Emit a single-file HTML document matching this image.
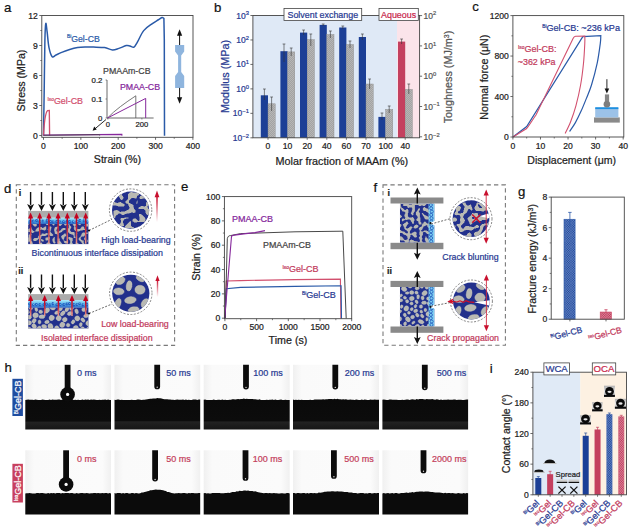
<!DOCTYPE html>
<html><head><meta charset="utf-8"><style>
html,body{margin:0;padding:0;background:#fff;}
svg{display:block;font-family:"Liberation Sans", sans-serif;}
</style></head><body>
<svg width="630" height="527" viewBox="0 0 630 527">
<defs><pattern id="hatchg" width="2" height="2" patternUnits="userSpaceOnUse"><rect width="2" height="2" fill="#c9c9c9"/><path d="M0,2 L2,0" stroke="#8a8a8a" stroke-width="0.6"/><path d="M0,0 L2,2" stroke="#9a9a9a" stroke-width="0.4"/></pattern><linearGradient id="redfade" x1="0" y1="0" x2="0" y2="1"><stop offset="0" stop-color="#c0001c"/><stop offset="0.5" stop-color="#c82a3c"/><stop offset="1" stop-color="#eca090"/></linearGradient><linearGradient id="redfade2" x1="0" y1="0" x2="0" y2="1"><stop offset="0" stop-color="#c8102e"/><stop offset="1" stop-color="#c8102e" stop-opacity="0"/></linearGradient><linearGradient id="bluelayer" x1="0" y1="0" x2="0" y2="1"><stop offset="0" stop-color="#b0ecfa"/><stop offset="0.5" stop-color="#58b4ea"/><stop offset="1" stop-color="#2c64c4"/></linearGradient><clipPath id="cdb2"><rect x="28.2" y="307.8" width="60.2" height="20.6"/></clipPath><clipPath id="cd1"><circle cx="130.6" cy="210.1" r="18.6"/></clipPath><clipPath id="cd2"><circle cx="130.8" cy="293.3" r="18.6"/></clipPath><clipPath id="cs31"><rect x="399.9" y="203.5" width="34.6" height="39.3"/></clipPath><clipPath id="cs32"><rect x="399.9" y="287.0" width="34.6" height="39.5"/></clipPath><clipPath id="cf1"><circle cx="471" cy="218.7" r="18.4"/></clipPath><clipPath id="cf2"><circle cx="471.4" cy="301" r="18.4"/></clipPath><pattern id="hb" width="2.2" height="2.2" patternUnits="userSpaceOnUse" patternTransform="rotate(45)"><rect width="2.2" height="2.2" fill="#2e5eb0"/><rect width="0.8" height="2.2" fill="#7fa0d8"/></pattern><pattern id="hp" width="2.2" height="2.2" patternUnits="userSpaceOnUse" patternTransform="rotate(45)"><rect width="2.2" height="2.2" fill="#d04c6a"/><rect width="0.8" height="2.2" fill="#f0a8b8"/></pattern><pattern id="hb2" width="2.2" height="2.2" patternUnits="userSpaceOnUse" patternTransform="rotate(-45)"><rect width="2.2" height="2.2" fill="#2e5eb0"/><rect width="0.8" height="2.2" fill="#8fb0e0"/></pattern><pattern id="hp2" width="2.2" height="2.2" patternUnits="userSpaceOnUse" patternTransform="rotate(-45)"><rect width="2.2" height="2.2" fill="#d04c6a"/><rect width="0.8" height="2.2" fill="#f4b8c6"/></pattern><linearGradient id="phbg" x1="0" y1="0" x2="1" y2="0"><stop offset="0" stop-color="#f0f0f0"/><stop offset="0.1" stop-color="#fafafa"/><stop offset="0.9" stop-color="#fbfbfb"/><stop offset="1" stop-color="#f0f0f0"/></linearGradient><linearGradient id="phbot" x1="0" y1="0" x2="0" y2="1"><stop offset="0" stop-color="#0a0a0a"/><stop offset="0.72" stop-color="#0c0c0c"/><stop offset="0.76" stop-color="#222"/><stop offset="1" stop-color="#161616"/></linearGradient><pattern id="hbi" width="1.7" height="1.7" patternUnits="userSpaceOnUse" patternTransform="rotate(45)"><rect width="1.7" height="1.7" fill="#1d469a"/><rect width="0.35" height="1.7" fill="#8aa4d6"/><rect width="1.7" height="0.35" fill="#8aa4d6"/></pattern><pattern id="hpi" width="1.7" height="1.7" patternUnits="userSpaceOnUse" patternTransform="rotate(45)"><rect width="1.7" height="1.7" fill="#bc3656"/><rect width="0.35" height="1.7" fill="#eeb0c0"/><rect width="1.7" height="0.35" fill="#eeb0c0"/></pattern><linearGradient id="icbg" x1="0" y1="0" x2="0" y2="1"><stop offset="0" stop-color="#b0b0b0"/><stop offset="0.5" stop-color="#e6e6e6"/><stop offset="1" stop-color="#a8a8a8"/></linearGradient></defs>
<text x="4.0" y="11.8" font-size="13.2" fill="#111" text-anchor="start"  stroke="#111" stroke-width="0.22">a</text>
<text x="214.0" y="11.6" font-size="13.2" fill="#111" text-anchor="start"  stroke="#111" stroke-width="0.22">b</text>
<text x="472.3" y="11.2" font-size="13.2" fill="#111" text-anchor="start"  stroke="#111" stroke-width="0.22">c</text>
<text x="3.9" y="192.6" font-size="13.2" fill="#111" text-anchor="start"  stroke="#111" stroke-width="0.22">d</text>
<text x="181.0" y="190.8" font-size="13.2" fill="#111" text-anchor="start"  stroke="#111" stroke-width="0.22">e</text>
<text x="373.5" y="192.2" font-size="13.2" fill="#111" text-anchor="start"  stroke="#111" stroke-width="0.22">f</text>
<text x="518.0" y="195.6" font-size="13.2" fill="#111" text-anchor="start"  stroke="#111" stroke-width="0.22">g</text>
<text x="4.5" y="372.4" font-size="13.2" fill="#111" text-anchor="start"  stroke="#111" stroke-width="0.22">h</text>
<text x="489.8" y="372.6" font-size="13.2" fill="#111" text-anchor="start"  stroke="#111" stroke-width="0.22">i</text>
<line x1="39.30" y1="135.50" x2="41.80" y2="135.50" stroke="#444" stroke-width="0.8" />
<text x="37.8" y="138.5" font-size="8.6" fill="#222" text-anchor="end"  stroke="#222" stroke-width="0.22">0</text>
<line x1="39.30" y1="105.50" x2="41.80" y2="105.50" stroke="#444" stroke-width="0.8" />
<text x="37.8" y="108.5" font-size="8.6" fill="#222" text-anchor="end"  stroke="#222" stroke-width="0.22">3</text>
<line x1="39.30" y1="75.50" x2="41.80" y2="75.50" stroke="#444" stroke-width="0.8" />
<text x="37.8" y="78.5" font-size="8.6" fill="#222" text-anchor="end"  stroke="#222" stroke-width="0.22">6</text>
<line x1="39.30" y1="45.50" x2="41.80" y2="45.50" stroke="#444" stroke-width="0.8" />
<text x="37.8" y="48.5" font-size="8.6" fill="#222" text-anchor="end"  stroke="#222" stroke-width="0.22">9</text>
<line x1="39.30" y1="15.50" x2="41.80" y2="15.50" stroke="#444" stroke-width="0.8" />
<text x="37.8" y="18.5" font-size="8.6" fill="#222" text-anchor="end"  stroke="#222" stroke-width="0.22">12</text>
<line x1="40.30" y1="120.50" x2="41.80" y2="120.50" stroke="#444" stroke-width="0.7" />
<line x1="40.30" y1="90.50" x2="41.80" y2="90.50" stroke="#444" stroke-width="0.7" />
<line x1="40.30" y1="60.50" x2="41.80" y2="60.50" stroke="#444" stroke-width="0.7" />
<line x1="40.30" y1="30.50" x2="41.80" y2="30.50" stroke="#444" stroke-width="0.7" />
<line x1="43.50" y1="137.30" x2="43.50" y2="139.80" stroke="#444" stroke-width="0.8" />
<text x="43.5" y="148.6" font-size="8.6" fill="#222" text-anchor="middle"  stroke="#222" stroke-width="0.22">0</text>
<line x1="80.85" y1="137.30" x2="80.85" y2="139.80" stroke="#444" stroke-width="0.8" />
<text x="80.8" y="148.6" font-size="8.6" fill="#222" text-anchor="middle"  stroke="#222" stroke-width="0.22">100</text>
<line x1="118.20" y1="137.30" x2="118.20" y2="139.80" stroke="#444" stroke-width="0.8" />
<text x="118.2" y="148.6" font-size="8.6" fill="#222" text-anchor="middle"  stroke="#222" stroke-width="0.22">200</text>
<line x1="155.55" y1="137.30" x2="155.55" y2="139.80" stroke="#444" stroke-width="0.8" />
<text x="155.6" y="148.6" font-size="8.6" fill="#222" text-anchor="middle"  stroke="#222" stroke-width="0.22">300</text>
<line x1="192.90" y1="137.30" x2="192.90" y2="139.80" stroke="#444" stroke-width="0.8" />
<text x="192.9" y="148.6" font-size="8.6" fill="#222" text-anchor="middle"  stroke="#222" stroke-width="0.22">400</text>
<line x1="62.17" y1="137.30" x2="62.17" y2="138.80" stroke="#444" stroke-width="0.7" />
<line x1="99.53" y1="137.30" x2="99.53" y2="138.80" stroke="#444" stroke-width="0.7" />
<line x1="136.88" y1="137.30" x2="136.88" y2="138.80" stroke="#444" stroke-width="0.7" />
<line x1="174.22" y1="137.30" x2="174.22" y2="138.80" stroke="#444" stroke-width="0.7" />
<text x="117.4" y="163.0" font-size="10.6" fill="#222" text-anchor="middle"  stroke="#222" stroke-width="0.22">Strain (%)</text>
<text x="0.0" y="0.0" font-size="10.6" fill="#222" text-anchor="middle" transform="translate(25.3,80.5) rotate(-90)" stroke="#222" stroke-width="0.22">Stress (MPa)</text>
<path d="M43.50,135.50 C43.62,127.92 43.97,105.92 44.20,90.00 C44.43,74.08 44.63,51.08 44.90,40.00 C45.17,28.92 45.43,24.88 45.80,23.50 C46.17,22.12 46.57,27.68 47.10,31.70 C47.63,35.72 48.15,43.43 49.00,47.60 C49.85,51.77 51.03,55.47 52.20,56.70 C53.37,57.93 54.42,55.72 56.00,55.00 C57.58,54.28 59.42,53.32 61.70,52.40 C63.98,51.48 67.05,50.30 69.70,49.50 C72.35,48.70 75.05,48.02 77.60,47.60 C80.15,47.18 82.35,47.08 85.00,47.00 C87.65,46.92 90.23,47.00 93.50,47.10 C96.77,47.20 101.43,47.12 104.60,47.60 C107.77,48.08 110.12,49.87 112.50,50.00 C114.88,50.13 116.62,49.13 118.90,48.40 C121.18,47.67 124.35,46.00 126.20,45.60 C128.05,45.20 128.70,45.75 130.00,46.00 C131.30,46.25 132.75,47.78 134.00,47.10 C135.25,46.42 135.88,44.65 137.50,41.90 C139.12,39.15 141.22,33.65 143.70,30.60 C146.18,27.55 150.02,25.37 152.40,23.60 C154.78,21.83 156.40,21.00 158.00,20.00 C159.60,19.00 161.02,17.85 162.00,17.60 C162.98,17.35 163.58,18.35 163.90,18.50 L164.3,40 L164.5,135.8" stroke="#2a5aa8" stroke-width="1.5" fill="none" />
<path d="M43.5,135.5 C44.2,122 45.2,113 47.5,110.6 L49.3,110.4 L49.6,135.6" stroke="#d2506e" stroke-width="1.35" fill="none" />
<path d="M43.5,135.2 L121.8,134.3 L122,135.6" stroke="#86289c" stroke-width="1.2" fill="none" />
<path d="M43.5,135.3 L99.5,134.7 L99.7,135.6" stroke="#444" stroke-width="0.8" fill="none" />
<rect x="41.80" y="15.50" width="151.20" height="121.80" fill="none" stroke="#444" stroke-width="0.9"/>
<text x="67" y="41.6" fill="#2a5aa8" font-size="8.7" stroke="#2a5aa8" stroke-width="0.22"><tspan font-size="4.8" dy="-3.2">Bi</tspan><tspan dy="3.2">Gel-CB</tspan></text>
<text x="47.5" y="104" fill="#d2506e" font-size="8.9" stroke="#d2506e" stroke-width="0.22"><tspan font-size="4.8" dy="-3.2">Iso</tspan><tspan dy="3.2">Gel-CB</tspan></text>
<text x="103.1" y="74.0" font-size="8.8" fill="#444" text-anchor="start"  stroke="#444" stroke-width="0.22">PMAAm-CB</text>
<text x="120.0" y="89.7" font-size="8.8" fill="#86289c" text-anchor="start"  stroke="#86289c" stroke-width="0.22">PMAA-CB</text>
<line x1="107.00" y1="80.00" x2="107.00" y2="118.00" stroke="#444" stroke-width="0.8" />
<line x1="107.00" y1="118.00" x2="153.60" y2="118.00" stroke="#444" stroke-width="0.8" />
<line x1="105.50" y1="118.00" x2="107.00" y2="118.00" stroke="#444" stroke-width="0.6" />
<text x="102.4" y="120.7" font-size="7.8" fill="#222" text-anchor="end"  stroke="#222" stroke-width="0.22">0</text>
<line x1="105.50" y1="99.00" x2="107.00" y2="99.00" stroke="#444" stroke-width="0.6" />
<text x="102.4" y="101.7" font-size="7.8" fill="#222" text-anchor="end"  stroke="#222" stroke-width="0.22">0.1</text>
<line x1="105.50" y1="80.00" x2="107.00" y2="80.00" stroke="#444" stroke-width="0.6" />
<text x="102.4" y="82.7" font-size="7.8" fill="#222" text-anchor="end"  stroke="#222" stroke-width="0.22">0.2</text>
<line x1="107.90" y1="118.00" x2="107.90" y2="119.50" stroke="#444" stroke-width="0.6" />
<text x="107.9" y="127.3" font-size="7.6" fill="#222" text-anchor="middle"  stroke="#222" stroke-width="0.22">0</text>
<line x1="141.90" y1="118.00" x2="141.90" y2="119.50" stroke="#444" stroke-width="0.6" />
<text x="141.9" y="127.3" font-size="7.6" fill="#222" text-anchor="middle"  stroke="#222" stroke-width="0.22">200</text>
<path d="M107.5,118 C115,110 125,103 135.8,95.8 L135.8,118" stroke="#555" stroke-width="0.8" fill="none" />
<path d="M107.5,118 L145.7,98.4 L145.7,118" stroke="#86289c" stroke-width="1.0" fill="none" />
<line x1="106.00" y1="119.50" x2="95.00" y2="128.80" stroke="#111" stroke-width="0.9" />
<path d="M92.6,130.8 L94.2,126.6 L96.7,129.6 Z" stroke="none" stroke-width="0" fill="#111" />
<g fill="#8fb5de">
<path d="M175.1,45 L184.2,45 L184.2,51.5 L181.2,55.5 L181.2,72 L184.2,76 L184.2,87.9 L175.1,87.9 L175.1,76 L178.1,72 L178.1,55.5 L175.1,51.5 Z"/>
</g>
<line x1="179.60" y1="45.00" x2="179.60" y2="33.00" stroke="#111" stroke-width="1.0" />
<path d="M179.6,29.3 L177,35.8 L182.2,35.8 Z" stroke="none" stroke-width="0" fill="#111" />
<line x1="179.60" y1="87.90" x2="179.60" y2="100.00" stroke="#111" stroke-width="1.0" />
<path d="M179.6,103.7 L177,97.2 L182.2,97.2 Z" stroke="none" stroke-width="0" fill="#111" />
<rect x="252.90" y="15.50" width="144.10" height="122.30" fill="#dfe9f6" />
<rect x="397.00" y="15.50" width="22.60" height="122.30" fill="#fbe4ea" />
<rect x="260.80" y="95.30" width="7.20" height="42.50" fill="#1c3f96" />
<rect x="268.00" y="103.80" width="7.20" height="34.00" fill="url(#hatchg)" stroke="#888" stroke-width="0.4"/>
<line x1="264.40" y1="89.00" x2="264.40" y2="100.00" stroke="#333" stroke-width="0.6" />
<line x1="263.00" y1="89.00" x2="265.80" y2="89.00" stroke="#333" stroke-width="0.6" />
<line x1="271.60" y1="97.00" x2="271.60" y2="111.00" stroke="#333" stroke-width="0.6" />
<line x1="270.20" y1="97.00" x2="273.00" y2="97.00" stroke="#333" stroke-width="0.6" />
<line x1="268.00" y1="137.80" x2="268.00" y2="139.80" stroke="#444" stroke-width="0.7" />
<text x="268.0" y="148.6" font-size="8.6" fill="#222" text-anchor="middle"  stroke="#222" stroke-width="0.22">0</text>
<rect x="280.40" y="51.20" width="7.20" height="86.60" fill="#1c3f96" />
<rect x="287.60" y="51.90" width="7.20" height="85.90" fill="url(#hatchg)" stroke="#888" stroke-width="0.4"/>
<line x1="284.00" y1="44.00" x2="284.00" y2="62.00" stroke="#333" stroke-width="0.6" />
<line x1="282.60" y1="44.00" x2="285.40" y2="44.00" stroke="#333" stroke-width="0.6" />
<line x1="291.20" y1="48.00" x2="291.20" y2="56.00" stroke="#333" stroke-width="0.6" />
<line x1="289.80" y1="48.00" x2="292.60" y2="48.00" stroke="#333" stroke-width="0.6" />
<line x1="287.60" y1="137.80" x2="287.60" y2="139.80" stroke="#444" stroke-width="0.7" />
<text x="287.6" y="148.6" font-size="8.6" fill="#222" text-anchor="middle"  stroke="#222" stroke-width="0.22">10</text>
<rect x="300.00" y="32.60" width="7.20" height="105.20" fill="#1c3f96" />
<rect x="307.20" y="39.60" width="7.20" height="98.20" fill="url(#hatchg)" stroke="#888" stroke-width="0.4"/>
<line x1="303.60" y1="30.00" x2="303.60" y2="35.00" stroke="#333" stroke-width="0.6" />
<line x1="302.20" y1="30.00" x2="305.00" y2="30.00" stroke="#333" stroke-width="0.6" />
<line x1="310.80" y1="34.00" x2="310.80" y2="46.00" stroke="#333" stroke-width="0.6" />
<line x1="309.40" y1="34.00" x2="312.20" y2="34.00" stroke="#333" stroke-width="0.6" />
<line x1="307.20" y1="137.80" x2="307.20" y2="139.80" stroke="#444" stroke-width="0.7" />
<text x="307.2" y="148.6" font-size="8.6" fill="#222" text-anchor="middle"  stroke="#222" stroke-width="0.22">20</text>
<rect x="319.60" y="24.90" width="7.20" height="112.90" fill="#1c3f96" />
<rect x="326.80" y="34.50" width="7.20" height="103.30" fill="url(#hatchg)" stroke="#888" stroke-width="0.4"/>
<line x1="323.20" y1="24.00" x2="323.20" y2="26.00" stroke="#333" stroke-width="0.6" />
<line x1="321.80" y1="24.00" x2="324.60" y2="24.00" stroke="#333" stroke-width="0.6" />
<line x1="330.40" y1="31.00" x2="330.40" y2="38.00" stroke="#333" stroke-width="0.6" />
<line x1="329.00" y1="31.00" x2="331.80" y2="31.00" stroke="#333" stroke-width="0.6" />
<line x1="326.80" y1="137.80" x2="326.80" y2="139.80" stroke="#444" stroke-width="0.7" />
<text x="326.8" y="148.6" font-size="8.6" fill="#222" text-anchor="middle"  stroke="#222" stroke-width="0.22">40</text>
<rect x="339.20" y="27.50" width="7.20" height="110.30" fill="#1c3f96" />
<rect x="346.40" y="44.50" width="7.20" height="93.30" fill="url(#hatchg)" stroke="#888" stroke-width="0.4"/>
<line x1="342.80" y1="26.00" x2="342.80" y2="29.00" stroke="#333" stroke-width="0.6" />
<line x1="341.40" y1="26.00" x2="344.20" y2="26.00" stroke="#333" stroke-width="0.6" />
<line x1="350.00" y1="41.00" x2="350.00" y2="48.00" stroke="#333" stroke-width="0.6" />
<line x1="348.60" y1="41.00" x2="351.40" y2="41.00" stroke="#333" stroke-width="0.6" />
<line x1="346.40" y1="137.80" x2="346.40" y2="139.80" stroke="#444" stroke-width="0.7" />
<text x="346.4" y="148.6" font-size="8.6" fill="#222" text-anchor="middle"  stroke="#222" stroke-width="0.22">60</text>
<rect x="358.80" y="37.00" width="7.20" height="100.80" fill="#1c3f96" />
<rect x="366.00" y="84.00" width="7.20" height="53.80" fill="url(#hatchg)" stroke="#888" stroke-width="0.4"/>
<line x1="362.40" y1="34.00" x2="362.40" y2="40.00" stroke="#333" stroke-width="0.6" />
<line x1="361.00" y1="34.00" x2="363.80" y2="34.00" stroke="#333" stroke-width="0.6" />
<line x1="369.60" y1="79.00" x2="369.60" y2="89.00" stroke="#333" stroke-width="0.6" />
<line x1="368.20" y1="79.00" x2="371.00" y2="79.00" stroke="#333" stroke-width="0.6" />
<line x1="366.00" y1="137.80" x2="366.00" y2="139.80" stroke="#444" stroke-width="0.7" />
<text x="366.0" y="148.6" font-size="8.6" fill="#222" text-anchor="middle"  stroke="#222" stroke-width="0.22">70</text>
<rect x="378.40" y="116.90" width="7.20" height="20.90" fill="#1c3f96" />
<rect x="385.60" y="109.40" width="7.20" height="28.40" fill="url(#hatchg)" stroke="#888" stroke-width="0.4"/>
<line x1="382.00" y1="113.00" x2="382.00" y2="120.00" stroke="#333" stroke-width="0.6" />
<line x1="380.60" y1="113.00" x2="383.40" y2="113.00" stroke="#333" stroke-width="0.6" />
<line x1="389.20" y1="106.00" x2="389.20" y2="113.00" stroke="#333" stroke-width="0.6" />
<line x1="387.80" y1="106.00" x2="390.60" y2="106.00" stroke="#333" stroke-width="0.6" />
<line x1="385.60" y1="137.80" x2="385.60" y2="139.80" stroke="#444" stroke-width="0.7" />
<text x="385.6" y="148.6" font-size="8.6" fill="#222" text-anchor="middle"  stroke="#222" stroke-width="0.22">100</text>
<rect x="398.00" y="41.60" width="7.20" height="96.20" fill="#c4405f" />
<rect x="405.20" y="89.40" width="7.20" height="48.40" fill="url(#hatchg)" stroke="#888" stroke-width="0.4"/>
<line x1="401.60" y1="39.00" x2="401.60" y2="44.00" stroke="#333" stroke-width="0.6" />
<line x1="400.20" y1="39.00" x2="403.00" y2="39.00" stroke="#333" stroke-width="0.6" />
<line x1="408.80" y1="84.00" x2="408.80" y2="94.00" stroke="#333" stroke-width="0.6" />
<line x1="407.40" y1="84.00" x2="410.20" y2="84.00" stroke="#333" stroke-width="0.6" />
<line x1="405.20" y1="137.80" x2="405.20" y2="139.80" stroke="#444" stroke-width="0.7" />
<text x="405.2" y="148.6" font-size="8.6" fill="#222" text-anchor="middle"  stroke="#222" stroke-width="0.22">40</text>
<rect x="252.90" y="15.50" width="166.70" height="122.30" fill="none" stroke="#444" stroke-width="0.9"/>
<line x1="250.40" y1="137.80" x2="252.90" y2="137.80" stroke="#444" stroke-width="0.8" />
<text x="248.9" y="140.8" font-size="8.5" fill="#283a92" text-anchor="end" stroke="#283a92" stroke-width="0.22">10<tspan font-size="5.8" dy="-3.3">&#8722;2</tspan></text>
<line x1="250.40" y1="113.34" x2="252.90" y2="113.34" stroke="#444" stroke-width="0.8" />
<text x="248.9" y="116.3" font-size="8.5" fill="#283a92" text-anchor="end" stroke="#283a92" stroke-width="0.22">10<tspan font-size="5.8" dy="-3.3">&#8722;1</tspan></text>
<line x1="250.40" y1="88.88" x2="252.90" y2="88.88" stroke="#444" stroke-width="0.8" />
<text x="248.9" y="91.9" font-size="8.5" fill="#283a92" text-anchor="end" stroke="#283a92" stroke-width="0.22">10<tspan font-size="5.8" dy="-3.3">0</tspan></text>
<line x1="250.40" y1="64.42" x2="252.90" y2="64.42" stroke="#444" stroke-width="0.8" />
<text x="248.9" y="67.4" font-size="8.5" fill="#283a92" text-anchor="end" stroke="#283a92" stroke-width="0.22">10<tspan font-size="5.8" dy="-3.3">1</tspan></text>
<line x1="250.40" y1="39.96" x2="252.90" y2="39.96" stroke="#444" stroke-width="0.8" />
<text x="248.9" y="43.0" font-size="8.5" fill="#283a92" text-anchor="end" stroke="#283a92" stroke-width="0.22">10<tspan font-size="5.8" dy="-3.3">2</tspan></text>
<line x1="250.40" y1="15.50" x2="252.90" y2="15.50" stroke="#444" stroke-width="0.8" />
<text x="248.9" y="18.5" font-size="8.5" fill="#283a92" text-anchor="end" stroke="#283a92" stroke-width="0.22">10<tspan font-size="5.8" dy="-3.3">3</tspan></text>
<line x1="419.60" y1="136.80" x2="422.10" y2="136.80" stroke="#444" stroke-width="0.8" />
<text x="423.6" y="139.8" font-size="8.5" fill="#555" stroke="#555" stroke-width="0.22">10<tspan font-size="5.8" dy="-3.3">&#8722;2</tspan></text>
<line x1="419.60" y1="106.50" x2="422.10" y2="106.50" stroke="#444" stroke-width="0.8" />
<text x="423.6" y="109.5" font-size="8.5" fill="#555" stroke="#555" stroke-width="0.22">10<tspan font-size="5.8" dy="-3.3">&#8722;1</tspan></text>
<line x1="419.60" y1="76.20" x2="422.10" y2="76.20" stroke="#444" stroke-width="0.8" />
<text x="423.6" y="79.2" font-size="8.5" fill="#555" stroke="#555" stroke-width="0.22">10<tspan font-size="5.8" dy="-3.3">0</tspan></text>
<line x1="419.60" y1="45.90" x2="422.10" y2="45.90" stroke="#444" stroke-width="0.8" />
<text x="423.6" y="48.9" font-size="8.5" fill="#555" stroke="#555" stroke-width="0.22">10<tspan font-size="5.8" dy="-3.3">1</tspan></text>
<line x1="419.60" y1="15.60" x2="422.10" y2="15.60" stroke="#444" stroke-width="0.8" />
<text x="423.6" y="18.6" font-size="8.5" fill="#555" stroke="#555" stroke-width="0.22">10<tspan font-size="5.8" dy="-3.3">2</tspan></text>
<text x="0.0" y="0.0" font-size="10.8" fill="#283a92" text-anchor="middle" transform="translate(228.5,76.5) rotate(-90)" stroke="#283a92" stroke-width="0.22">Modulus (MPa)</text>
<text transform="translate(452,77) rotate(-90)" font-size="10.8" fill="#555" text-anchor="middle" stroke="#555" stroke-width="0.22">Toughness (MJ/m<tspan font-size="7" dy="-3.5">3</tspan><tspan dy="3.5">)</tspan></text>
<text x="341.8" y="165.0" font-size="10.8" fill="#222" text-anchor="middle"  stroke="#222" stroke-width="0.22">Molar fraction of MAAm (%)</text>
<rect x="284.00" y="8.40" width="77.70" height="12.20" fill="#fff" stroke="#444" stroke-width="0.8"/>
<text x="322.8" y="17.8" font-size="8.9" fill="#283a92" text-anchor="middle"  stroke="#283a92" stroke-width="0.22">Solvent exchange</text>
<rect x="379.00" y="8.40" width="39.30" height="12.20" fill="#fff" stroke="#444" stroke-width="0.8"/>
<text x="398.6" y="17.8" font-size="8.9" fill="#c8284c" text-anchor="middle"  stroke="#c8284c" stroke-width="0.22">Aqueous</text>
<line x1="510.40" y1="137.00" x2="512.90" y2="137.00" stroke="#444" stroke-width="0.8" />
<text x="508.9" y="140.0" font-size="8.6" fill="#222" text-anchor="end"  stroke="#222" stroke-width="0.22">0</text>
<line x1="510.40" y1="96.53" x2="512.90" y2="96.53" stroke="#444" stroke-width="0.8" />
<text x="508.9" y="99.5" font-size="8.6" fill="#222" text-anchor="end"  stroke="#222" stroke-width="0.22">400</text>
<line x1="510.40" y1="56.06" x2="512.90" y2="56.06" stroke="#444" stroke-width="0.8" />
<text x="508.9" y="59.1" font-size="8.6" fill="#222" text-anchor="end"  stroke="#222" stroke-width="0.22">800</text>
<line x1="510.40" y1="15.60" x2="512.90" y2="15.60" stroke="#444" stroke-width="0.8" />
<text x="508.9" y="18.6" font-size="8.6" fill="#222" text-anchor="end"  stroke="#222" stroke-width="0.22">1200</text>
<line x1="511.40" y1="116.77" x2="512.90" y2="116.77" stroke="#444" stroke-width="0.7" />
<line x1="511.40" y1="76.30" x2="512.90" y2="76.30" stroke="#444" stroke-width="0.7" />
<line x1="511.40" y1="35.83" x2="512.90" y2="35.83" stroke="#444" stroke-width="0.7" />
<line x1="512.90" y1="137.00" x2="512.90" y2="139.50" stroke="#444" stroke-width="0.8" />
<text x="512.9" y="149.0" font-size="8.6" fill="#222" text-anchor="middle"  stroke="#222" stroke-width="0.22">0</text>
<line x1="540.47" y1="137.00" x2="540.47" y2="139.50" stroke="#444" stroke-width="0.8" />
<text x="540.5" y="149.0" font-size="8.6" fill="#222" text-anchor="middle"  stroke="#222" stroke-width="0.22">10</text>
<line x1="568.04" y1="137.00" x2="568.04" y2="139.50" stroke="#444" stroke-width="0.8" />
<text x="568.0" y="149.0" font-size="8.6" fill="#222" text-anchor="middle"  stroke="#222" stroke-width="0.22">20</text>
<line x1="595.61" y1="137.00" x2="595.61" y2="139.50" stroke="#444" stroke-width="0.8" />
<text x="595.6" y="149.0" font-size="8.6" fill="#222" text-anchor="middle"  stroke="#222" stroke-width="0.22">30</text>
<line x1="623.18" y1="137.00" x2="623.18" y2="139.50" stroke="#444" stroke-width="0.8" />
<text x="623.2" y="149.0" font-size="8.6" fill="#222" text-anchor="middle"  stroke="#222" stroke-width="0.22">40</text>
<line x1="526.68" y1="137.00" x2="526.68" y2="138.50" stroke="#444" stroke-width="0.7" />
<line x1="554.25" y1="137.00" x2="554.25" y2="138.50" stroke="#444" stroke-width="0.7" />
<line x1="581.82" y1="137.00" x2="581.82" y2="138.50" stroke="#444" stroke-width="0.7" />
<line x1="609.39" y1="137.00" x2="609.39" y2="138.50" stroke="#444" stroke-width="0.7" />
<text x="571.7" y="164.4" font-size="10.55" fill="#222" text-anchor="middle"  stroke="#222" stroke-width="0.22">Displacement (μm)</text>
<text x="0.0" y="0.0" font-size="10.7" fill="#222" text-anchor="middle" transform="translate(488,77.2) rotate(-90)" stroke="#222" stroke-width="0.22">Normal force (μN)</text>
<path d="M512.9,137.0 L526.7,126.5 L582.8,36.6 L600.8,35.6 C600.72,37.22 600.90,38.77 600.30,43.30 C599.70,47.83 598.67,56.25 597.20,63.20 C595.73,70.15 593.32,79.10 591.50,85.00 C589.68,90.90 588.03,94.25 586.30,98.60 C584.57,102.95 582.92,107.10 581.10,111.10 C579.28,115.10 577.32,119.20 575.40,122.60 C573.48,126.00 570.57,130.02 569.60,131.50" stroke="#2a5aa8" stroke-width="1.2" fill="none" />
<path d="M512.9,137.0 L526.7,128.5 C530,124.5 533,119 536,115 L573.2,38.2 C573.8,37 574.5,36.5 575.6,36.3 L584.8,36.0 C584.80,37.22 585.02,38.77 584.80,43.30 C584.58,47.83 584.20,56.25 583.50,63.20 C582.80,70.15 581.87,77.88 580.60,85.00 C579.33,92.12 577.55,99.82 575.90,105.90 C574.25,111.98 572.48,116.90 570.70,121.50 C568.92,126.10 566.12,131.50 565.20,133.50" stroke="#d2506e" stroke-width="1.1" fill="none" />
<rect x="512.90" y="15.60" width="110.90" height="121.40" fill="none" stroke="#444" stroke-width="0.9"/>
<text x="542.2" y="31.0" fill="#283a92" font-size="9.1" stroke="#283a92" stroke-width="0.22"><tspan font-size="4.8" dy="-3.2">Bi</tspan><tspan dy="3.2">Gel-CB: ~236 kPa</tspan></text>
<text x="518" y="52.3" fill="#c23a5c" font-size="9" stroke="#c23a5c" stroke-width="0.22"><tspan font-size="4.8" dy="-3.2">Iso</tspan><tspan dy="3.2">Gel-CB:</tspan></text>
<text x="517.8" y="65.1" font-size="8.9" fill="#c23a5c" text-anchor="start"  stroke="#c23a5c" stroke-width="0.22">~362 kPa</text>
<rect x="594.00" y="117.40" width="25.80" height="5.20" fill="#8a8a8a" />
<rect x="595.20" y="108.20" width="23.20" height="9.20" fill="#9cc2e8" />
<rect x="595.20" y="107.20" width="23.20" height="1.90" fill="#1e8fe0" />
<rect x="604.90" y="94.40" width="4.20" height="10.50" fill="#858585" />
<circle cx="606.9" cy="104.3" r="3.3" fill="#7d7d7d"/>
<line x1="606.90" y1="79.20" x2="606.90" y2="90.00" stroke="#111" stroke-width="0.9" />
<path d="M606.9,93.4 L604.6,88.4 L609.2,88.4 Z" stroke="none" stroke-width="0" fill="#111" />
<rect x="16.3" y="184.8" width="158.3" height="160.6" fill="none" stroke="#7a7a7a" stroke-width="1.1" stroke-dasharray="4.3,3.1"/>
<text x="18.7" y="195.8" font-size="9" fill="#222" text-anchor="start" font-weight="bold" stroke="#222" stroke-width="0.22">i</text>
<text x="18.3" y="273.8" font-size="9" fill="#222" text-anchor="start" font-weight="bold" stroke="#222" stroke-width="0.22">ii</text>
<rect x="28.20" y="210.90" width="60.20" height="6.90" fill="#ababab" />
<rect x="28.2" y="217.8" width="60.2" height="6.2" fill="url(#bluelayer)"/><ellipse cx="29.9" cy="221.9" rx="1.2" ry="1.9" fill="#1e5cc0"/><circle cx="30.2" cy="221.7" r="0.5" fill="#9ad8f6"/><ellipse cx="33.0" cy="221.1" rx="1.5" ry="1.5" fill="#1e5cc0"/><circle cx="33.3" cy="220.9" r="0.5" fill="#9ad8f6"/><ellipse cx="36.6" cy="220.5" rx="1.5" ry="1.6" fill="#1e5cc0"/><circle cx="36.9" cy="220.3" r="0.5" fill="#9ad8f6"/><ellipse cx="39.7" cy="221.7" rx="1.3" ry="1.6" fill="#1e5cc0"/><circle cx="40.0" cy="221.5" r="0.5" fill="#9ad8f6"/><ellipse cx="42.8" cy="221.1" rx="1.2" ry="1.5" fill="#1e5cc0"/><circle cx="43.1" cy="220.9" r="0.5" fill="#9ad8f6"/><ellipse cx="46.9" cy="220.9" rx="1.3" ry="1.9" fill="#1e5cc0"/><circle cx="47.2" cy="220.7" r="0.5" fill="#9ad8f6"/><ellipse cx="50.5" cy="221.6" rx="1.4" ry="1.5" fill="#1e5cc0"/><circle cx="50.8" cy="221.4" r="0.5" fill="#9ad8f6"/><ellipse cx="52.9" cy="222.0" rx="1.4" ry="1.4" fill="#1e5cc0"/><circle cx="53.2" cy="221.8" r="0.5" fill="#9ad8f6"/><ellipse cx="56.8" cy="221.7" rx="1.4" ry="1.9" fill="#1e5cc0"/><circle cx="57.1" cy="221.5" r="0.5" fill="#9ad8f6"/><ellipse cx="59.4" cy="221.3" rx="1.3" ry="1.3" fill="#1e5cc0"/><circle cx="59.7" cy="221.1" r="0.5" fill="#9ad8f6"/><ellipse cx="63.5" cy="221.8" rx="1.4" ry="1.5" fill="#1e5cc0"/><circle cx="63.8" cy="221.6" r="0.5" fill="#9ad8f6"/><ellipse cx="67.1" cy="221.2" rx="1.4" ry="1.8" fill="#1e5cc0"/><circle cx="67.4" cy="221.0" r="0.5" fill="#9ad8f6"/><ellipse cx="69.6" cy="221.7" rx="1.4" ry="1.8" fill="#1e5cc0"/><circle cx="69.9" cy="221.5" r="0.5" fill="#9ad8f6"/><ellipse cx="73.0" cy="221.7" rx="1.2" ry="1.3" fill="#1e5cc0"/><circle cx="73.3" cy="221.5" r="0.5" fill="#9ad8f6"/><ellipse cx="77.1" cy="221.8" rx="1.5" ry="1.6" fill="#1e5cc0"/><circle cx="77.4" cy="221.6" r="0.5" fill="#9ad8f6"/><ellipse cx="79.8" cy="220.4" rx="1.4" ry="1.7" fill="#1e5cc0"/><circle cx="80.1" cy="220.2" r="0.5" fill="#9ad8f6"/><ellipse cx="83.8" cy="220.9" rx="1.2" ry="1.7" fill="#1e5cc0"/><circle cx="84.1" cy="220.7" r="0.5" fill="#9ad8f6"/><ellipse cx="87.1" cy="222.0" rx="1.2" ry="1.6" fill="#1e5cc0"/><circle cx="87.4" cy="221.8" r="0.5" fill="#9ad8f6"/>
<rect x="28.20" y="224.00" width="60.20" height="20.10" fill="#22308c" />
<path d="M28.2,224.0h1.0v0.5h-1.0zM32.7,224.0h4.0v0.5h-4.0zM46.2,224.0h2.0v0.5h-2.0zM52.2,224.0h2.5v0.5h-2.5zM58.2,224.0h4.0v0.5h-4.0zM64.2,224.0h5.0v0.5h-5.0zM72.7,224.0h3.5v0.5h-3.5zM78.2,224.0h2.5v0.5h-2.5zM85.2,224.0h3.0v0.5h-3.0zM28.2,224.5h0.5v0.5h-0.5zM32.7,224.5h4.0v0.5h-4.0zM46.2,224.5h2.0v0.5h-2.0zM52.7,224.5h1.5v0.5h-1.5zM58.7,224.5h3.0v0.5h-3.0zM64.2,224.5h2.5v0.5h-2.5zM68.7,224.5h1.0v0.5h-1.0zM73.2,224.5h3.0v0.5h-3.0zM78.7,224.5h2.0v0.5h-2.0zM85.2,224.5h3.0v0.5h-3.0zM33.2,225.0h3.5v0.5h-3.5zM53.2,225.0h1.0v0.5h-1.0zM59.2,225.0h2.0v0.5h-2.0zM64.7,225.0h1.5v0.5h-1.5zM68.7,225.0h1.0v0.5h-1.0zM73.2,225.0h3.0v0.5h-3.0zM79.7,225.0h0.5v0.5h-0.5zM84.7,225.0h3.5v0.5h-3.5zM33.7,225.5h3.0v0.5h-3.0zM59.2,225.5h1.5v0.5h-1.5zM68.7,225.5h1.5v0.5h-1.5zM73.7,225.5h2.0v0.5h-2.0zM84.7,225.5h3.5v0.5h-3.5zM34.2,226.0h2.0v0.5h-2.0zM68.7,226.0h2.0v0.5h-2.0zM74.2,226.0h1.0v0.5h-1.0zM85.2,226.0h3.0v0.5h-3.0zM44.7,226.5h1.5v0.5h-1.5zM48.7,226.5h2.5v0.5h-2.5zM56.7,226.5h1.5v0.5h-1.5zM68.7,226.5h2.5v0.5h-2.5zM74.2,226.5h1.5v0.5h-1.5zM81.7,226.5h2.0v0.5h-2.0zM38.7,227.0h3.0v0.5h-3.0zM44.2,227.0h2.0v0.5h-2.0zM48.7,227.0h2.5v0.5h-2.5zM55.2,227.0h3.0v0.5h-3.0zM68.7,227.0h2.5v0.5h-2.5zM74.2,227.0h1.5v0.5h-1.5zM81.2,227.0h3.0v0.5h-3.0zM30.2,227.5h1.5v0.5h-1.5zM37.7,227.5h4.5v0.5h-4.5zM43.2,227.5h3.0v0.5h-3.0zM48.2,227.5h3.5v0.5h-3.5zM54.7,227.5h3.5v0.5h-3.5zM68.7,227.5h2.5v0.5h-2.5zM73.7,227.5h2.5v0.5h-2.5zM81.2,227.5h3.0v0.5h-3.0zM29.7,228.0h2.0v0.5h-2.0zM36.7,228.0h9.5v0.5h-9.5zM48.2,228.0h3.0v0.5h-3.0zM54.7,228.0h3.0v0.5h-3.0zM62.7,228.0h2.5v0.5h-2.5zM68.2,228.0h2.5v0.5h-2.5zM73.7,228.0h3.0v0.5h-3.0zM80.7,228.0h3.5v0.5h-3.5zM29.2,228.5h2.5v0.5h-2.5zM36.7,228.5h9.5v0.5h-9.5zM48.2,228.5h3.0v0.5h-3.0zM54.2,228.5h3.0v0.5h-3.0zM61.7,228.5h4.0v0.5h-4.0zM68.2,228.5h2.5v0.5h-2.5zM74.2,228.5h3.0v0.5h-3.0zM80.2,228.5h4.5v0.5h-4.5zM28.2,229.0h4.0v0.5h-4.0zM36.2,229.0h10.0v0.5h-10.0zM47.7,229.0h3.5v0.5h-3.5zM54.2,229.0h2.5v0.5h-2.5zM61.2,229.0h4.5v0.5h-4.5zM67.7,229.0h2.5v0.5h-2.5zM74.2,229.0h11.5v0.5h-11.5zM28.2,229.5h4.0v0.5h-4.0zM35.7,229.5h5.5v0.5h-5.5zM42.2,229.5h3.5v0.5h-3.5zM47.7,229.5h3.0v0.5h-3.0zM54.2,229.5h2.5v0.5h-2.5zM61.2,229.5h4.0v0.5h-4.0zM67.2,229.5h3.0v0.5h-3.0zM74.2,229.5h12.0v0.5h-12.0zM28.2,230.0h4.5v0.5h-4.5zM35.7,230.0h4.0v0.5h-4.0zM43.7,230.0h1.5v0.5h-1.5zM48.2,230.0h2.5v0.5h-2.5zM54.2,230.0h2.0v0.5h-2.0zM60.7,230.0h3.0v0.5h-3.0zM67.2,230.0h3.0v0.5h-3.0zM74.7,230.0h8.0v0.5h-8.0zM85.2,230.0h1.5v0.5h-1.5zM28.2,230.5h5.0v0.5h-5.0zM35.2,230.5h4.0v0.5h-4.0zM48.2,230.5h2.5v0.5h-2.5zM54.2,230.5h2.5v0.5h-2.5zM59.7,230.5h3.0v0.5h-3.0zM67.2,230.5h3.0v0.5h-3.0zM75.2,230.5h5.0v0.5h-5.0zM85.7,230.5h0.5v0.5h-0.5zM28.2,231.0h6.0v0.5h-6.0zM35.2,231.0h3.5v0.5h-3.5zM48.7,231.0h1.5v0.5h-1.5zM54.2,231.0h2.5v0.5h-2.5zM59.2,231.0h3.0v0.5h-3.0zM67.2,231.0h3.5v0.5h-3.5zM76.7,231.0h2.5v0.5h-2.5zM28.2,231.5h6.5v0.5h-6.5zM49.2,231.5h1.5v0.5h-1.5zM54.7,231.5h3.0v0.5h-3.0zM58.7,231.5h3.5v0.5h-3.5zM67.7,231.5h3.5v0.5h-3.5zM31.2,232.0h3.0v0.5h-3.0zM49.2,232.0h1.5v0.5h-1.5zM54.7,232.0h6.5v0.5h-6.5zM68.2,232.0h6.0v0.5h-6.0zM31.7,232.5h1.5v0.5h-1.5zM49.2,232.5h2.0v0.5h-2.0zM54.7,232.5h5.0v0.5h-5.0zM68.7,232.5h6.0v0.5h-6.0zM82.7,232.5h2.0v0.5h-2.0zM85.7,232.5h2.0v0.5h-2.0zM46.2,233.0h1.0v0.5h-1.0zM48.7,233.0h3.0v0.5h-3.0zM54.7,233.0h4.0v0.5h-4.0zM69.2,233.0h5.5v0.5h-5.5zM76.7,233.0h0.5v0.5h-0.5zM82.2,233.0h5.5v0.5h-5.5zM30.2,233.5h1.0v0.5h-1.0zM41.7,233.5h2.0v0.5h-2.0zM44.7,233.5h3.5v0.5h-3.5zM48.7,233.5h3.5v0.5h-3.5zM55.2,233.5h3.5v0.5h-3.5zM64.2,233.5h1.5v0.5h-1.5zM69.7,233.5h5.0v0.5h-5.0zM76.7,233.5h0.5v0.5h-0.5zM81.7,233.5h6.0v0.5h-6.0zM29.7,234.0h2.0v0.5h-2.0zM41.7,234.0h6.5v0.5h-6.5zM48.7,234.0h4.0v0.5h-4.0zM56.7,234.0h1.5v0.5h-1.5zM63.7,234.0h2.0v0.5h-2.0zM71.2,234.0h3.5v0.5h-3.5zM81.7,234.0h4.0v0.5h-4.0zM29.2,234.5h2.0v0.5h-2.0zM41.2,234.5h6.0v0.5h-6.0zM49.2,234.5h4.0v0.5h-4.0zM57.7,234.5h0.5v0.5h-0.5zM63.2,234.5h3.0v0.5h-3.0zM72.7,234.5h2.0v0.5h-2.0zM81.2,234.5h4.0v0.5h-4.0zM28.7,235.0h2.5v0.5h-2.5zM40.2,235.0h6.5v0.5h-6.5zM49.7,235.0h3.5v0.5h-3.5zM62.2,235.0h4.0v0.5h-4.0zM73.2,235.0h1.5v0.5h-1.5zM81.2,235.0h3.5v0.5h-3.5zM28.7,235.5h2.0v0.5h-2.0zM38.7,235.5h7.0v0.5h-7.0zM50.2,235.5h2.5v0.5h-2.5zM61.7,235.5h4.5v0.5h-4.5zM73.7,235.5h1.0v0.5h-1.0zM80.7,235.5h4.0v0.5h-4.0zM28.7,236.0h1.5v0.5h-1.5zM38.2,236.0h3.5v0.5h-3.5zM61.2,236.0h4.5v0.5h-4.5zM73.7,236.0h1.0v0.5h-1.0zM80.7,236.0h3.5v0.5h-3.5zM28.7,236.5h1.5v0.5h-1.5zM38.2,236.5h3.0v0.5h-3.0zM61.2,236.5h3.5v0.5h-3.5zM73.7,236.5h1.5v0.5h-1.5zM80.2,236.5h1.5v0.5h-1.5zM28.7,237.0h1.5v0.5h-1.5zM38.2,237.0h3.0v0.5h-3.0zM47.7,237.0h2.0v0.5h-2.0zM53.7,237.0h1.0v0.5h-1.0zM61.2,237.0h3.5v0.5h-3.5zM68.7,237.0h1.5v0.5h-1.5zM73.7,237.0h1.5v0.5h-1.5zM79.7,237.0h1.5v0.5h-1.5zM28.2,237.5h2.5v0.5h-2.5zM37.7,237.5h3.5v0.5h-3.5zM45.7,237.5h4.0v0.5h-4.0zM53.7,237.5h1.0v0.5h-1.0zM61.7,237.5h2.5v0.5h-2.5zM68.2,237.5h3.5v0.5h-3.5zM73.7,237.5h2.0v0.5h-2.0zM79.2,237.5h1.5v0.5h-1.5zM84.2,237.5h0.5v0.5h-0.5zM28.2,238.0h2.5v0.5h-2.5zM34.2,238.0h6.5v0.5h-6.5zM45.7,238.0h4.0v0.5h-4.0zM53.2,238.0h1.5v0.5h-1.5zM61.7,238.0h2.5v0.5h-2.5zM68.2,238.0h4.5v0.5h-4.5zM78.7,238.0h2.0v0.5h-2.0zM84.2,238.0h1.0v0.5h-1.0zM28.2,238.5h3.0v0.5h-3.0zM33.7,238.5h5.0v0.5h-5.0zM39.7,238.5h1.0v0.5h-1.0zM45.2,238.5h4.5v0.5h-4.5zM52.7,238.5h2.0v0.5h-2.0zM58.2,238.5h1.5v0.5h-1.5zM62.2,238.5h2.0v0.5h-2.0zM68.7,238.5h4.0v0.5h-4.0zM78.7,238.5h2.0v0.5h-2.0zM84.2,238.5h1.5v0.5h-1.5zM28.2,239.0h3.0v0.5h-3.0zM33.2,239.0h5.0v0.5h-5.0zM40.7,239.0h1.0v0.5h-1.0zM45.2,239.0h4.0v0.5h-4.0zM52.7,239.0h2.0v0.5h-2.0zM58.2,239.0h1.5v0.5h-1.5zM62.7,239.0h1.0v0.5h-1.0zM69.2,239.0h3.5v0.5h-3.5zM78.7,239.0h2.5v0.5h-2.5zM84.2,239.0h1.0v0.5h-1.0zM28.2,239.5h3.0v0.5h-3.0zM33.2,239.5h4.5v0.5h-4.5zM40.7,239.5h2.5v0.5h-2.5zM45.7,239.5h3.0v0.5h-3.0zM52.2,239.5h2.5v0.5h-2.5zM57.7,239.5h2.0v0.5h-2.0zM62.7,239.5h1.0v0.5h-1.0zM69.2,239.5h3.5v0.5h-3.5zM78.7,239.5h2.5v0.5h-2.5zM84.2,239.5h0.5v0.5h-0.5zM87.7,239.5h0.5v0.5h-0.5zM28.2,240.0h3.0v0.5h-3.0zM33.2,240.0h4.0v0.5h-4.0zM41.2,240.0h2.5v0.5h-2.5zM45.7,240.0h2.0v0.5h-2.0zM52.2,240.0h2.5v0.5h-2.5zM58.2,240.0h1.5v0.5h-1.5zM63.2,240.0h0.5v0.5h-0.5zM69.7,240.0h3.0v0.5h-3.0zM79.2,240.0h3.0v0.5h-3.0zM87.7,240.0h0.5v0.5h-0.5zM28.2,240.5h3.0v0.5h-3.0zM33.7,240.5h2.5v0.5h-2.5zM41.2,240.5h2.5v0.5h-2.5zM52.7,240.5h2.0v0.5h-2.0zM58.2,240.5h1.5v0.5h-1.5zM63.7,240.5h1.0v0.5h-1.0zM70.2,240.5h2.5v0.5h-2.5zM79.7,240.5h4.0v0.5h-4.0zM87.2,240.5h1.0v0.5h-1.0zM28.2,241.0h3.5v0.5h-3.5zM41.7,241.0h2.0v0.5h-2.0zM52.7,241.0h2.0v0.5h-2.0zM58.2,241.0h2.0v0.5h-2.0zM63.7,241.0h3.0v0.5h-3.0zM70.2,241.0h2.0v0.5h-2.0zM80.2,241.0h3.5v0.5h-3.5zM87.2,241.0h1.0v0.5h-1.0zM28.2,241.5h0.5v0.5h-0.5zM29.7,241.5h2.5v0.5h-2.5zM52.7,241.5h2.5v0.5h-2.5zM58.2,241.5h2.5v0.5h-2.5zM64.2,241.5h3.0v0.5h-3.0zM70.2,241.5h2.0v0.5h-2.0zM81.2,241.5h2.5v0.5h-2.5zM87.7,241.5h0.5v0.5h-0.5zM30.2,242.0h2.0v0.5h-2.0zM53.2,242.0h2.0v0.5h-2.0zM58.2,242.0h3.0v0.5h-3.0zM64.2,242.0h3.0v0.5h-3.0zM70.2,242.0h2.0v0.5h-2.0zM81.2,242.0h2.5v0.5h-2.5zM30.2,242.5h2.5v0.5h-2.5zM40.7,242.5h1.0v0.5h-1.0zM47.2,242.5h2.0v0.5h-2.0zM53.2,242.5h2.5v0.5h-2.5zM57.7,242.5h3.5v0.5h-3.5zM64.2,242.5h3.0v0.5h-3.0zM70.2,242.5h2.0v0.5h-2.0zM75.7,242.5h1.5v0.5h-1.5zM81.7,242.5h2.0v0.5h-2.0zM30.2,243.0h2.5v0.5h-2.5zM39.7,243.0h2.5v0.5h-2.5zM46.7,243.0h3.5v0.5h-3.5zM53.7,243.0h1.5v0.5h-1.5zM57.7,243.0h4.0v0.5h-4.0zM65.2,243.0h1.5v0.5h-1.5zM69.7,243.0h3.0v0.5h-3.0zM75.7,243.0h2.0v0.5h-2.0zM82.2,243.0h2.0v0.5h-2.0zM30.2,243.5h2.5v0.5h-2.5zM39.7,243.5h2.5v0.5h-2.5zM46.2,243.5h4.5v0.5h-4.5zM58.2,243.5h4.0v0.5h-4.0zM69.7,243.5h3.0v0.5h-3.0zM75.7,243.5h3.0v0.5h-3.0zM82.2,243.5h2.0v0.5h-2.0z" fill="#b9b9b3"/>
<line x1="30.60" y1="192.00" x2="30.60" y2="204.90" stroke="#111" stroke-width="1.4" />
<path d="M30.60,210.90 L27.10,203.90 L30.60,205.65 L34.10,203.90 Z" stroke="none" stroke-width="0" fill="#111" />
<line x1="41.50" y1="192.00" x2="41.50" y2="204.90" stroke="#111" stroke-width="1.4" />
<path d="M41.50,210.90 L38.00,203.90 L41.50,205.65 L45.00,203.90 Z" stroke="none" stroke-width="0" fill="#111" />
<line x1="52.40" y1="192.00" x2="52.40" y2="204.90" stroke="#111" stroke-width="1.4" />
<path d="M52.40,210.90 L48.90,203.90 L52.40,205.65 L55.90,203.90 Z" stroke="none" stroke-width="0" fill="#111" />
<line x1="63.30" y1="192.00" x2="63.30" y2="204.90" stroke="#111" stroke-width="1.4" />
<path d="M63.30,210.90 L59.80,203.90 L63.30,205.65 L66.80,203.90 Z" stroke="none" stroke-width="0" fill="#111" />
<line x1="74.30" y1="192.00" x2="74.30" y2="204.90" stroke="#111" stroke-width="1.4" />
<path d="M74.30,210.90 L70.80,203.90 L74.30,205.65 L77.80,203.90 Z" stroke="none" stroke-width="0" fill="#111" />
<line x1="85.30" y1="192.00" x2="85.30" y2="204.90" stroke="#111" stroke-width="1.4" />
<path d="M85.30,210.90 L81.80,203.90 L85.30,205.65 L88.80,203.90 Z" stroke="none" stroke-width="0" fill="#111" />
<rect x="29.85" y="217.00" width="1.50" height="26.70" fill="url(#redfade)" />
<path d="M30.60,212.6 L28.00,218.6 L33.20,218.6 Z" stroke="none" stroke-width="0" fill="#c4001e" />
<rect x="38.95" y="217.00" width="1.50" height="26.70" fill="url(#redfade)" />
<path d="M39.70,212.6 L37.10,218.6 L42.30,218.6 Z" stroke="none" stroke-width="0" fill="#c4001e" />
<rect x="48.15" y="217.00" width="1.50" height="26.70" fill="url(#redfade)" />
<path d="M48.90,212.6 L46.30,218.6 L51.50,218.6 Z" stroke="none" stroke-width="0" fill="#c4001e" />
<rect x="57.35" y="217.00" width="1.50" height="26.70" fill="url(#redfade)" />
<path d="M58.10,212.6 L55.50,218.6 L60.70,218.6 Z" stroke="none" stroke-width="0" fill="#c4001e" />
<rect x="66.55" y="217.00" width="1.50" height="26.70" fill="url(#redfade)" />
<path d="M67.30,212.6 L64.70,218.6 L69.90,218.6 Z" stroke="none" stroke-width="0" fill="#c4001e" />
<rect x="75.75" y="217.00" width="1.50" height="26.70" fill="url(#redfade)" />
<path d="M76.50,212.6 L73.90,218.6 L79.10,218.6 Z" stroke="none" stroke-width="0" fill="#c4001e" />
<rect x="84.95" y="217.00" width="1.50" height="26.70" fill="url(#redfade)" />
<path d="M85.70,212.6 L83.10,218.6 L88.30,218.6 Z" stroke="none" stroke-width="0" fill="#c4001e" />
<rect x="28.20" y="294.10" width="60.20" height="5.90" fill="#ababab" />
<rect x="28.2" y="300" width="60.2" height="7.8" fill="url(#bluelayer)"/><ellipse cx="29.6" cy="304.0" rx="1.5" ry="1.4" fill="#1e5cc0"/><circle cx="29.9" cy="303.8" r="0.5" fill="#9ad8f6"/><ellipse cx="33.3" cy="304.7" rx="1.2" ry="1.3" fill="#1e5cc0"/><circle cx="33.6" cy="304.5" r="0.5" fill="#9ad8f6"/><ellipse cx="36.3" cy="304.5" rx="1.4" ry="1.4" fill="#1e5cc0"/><circle cx="36.6" cy="304.3" r="0.5" fill="#9ad8f6"/><ellipse cx="39.8" cy="304.6" rx="1.3" ry="1.7" fill="#1e5cc0"/><circle cx="40.1" cy="304.4" r="0.5" fill="#9ad8f6"/><ellipse cx="43.8" cy="304.6" rx="1.3" ry="1.4" fill="#1e5cc0"/><circle cx="44.1" cy="304.4" r="0.5" fill="#9ad8f6"/><ellipse cx="46.4" cy="304.3" rx="1.5" ry="1.8" fill="#1e5cc0"/><circle cx="46.7" cy="304.1" r="0.5" fill="#9ad8f6"/><ellipse cx="49.7" cy="305.0" rx="1.3" ry="1.7" fill="#1e5cc0"/><circle cx="50.0" cy="304.8" r="0.5" fill="#9ad8f6"/><ellipse cx="52.8" cy="303.7" rx="1.2" ry="1.8" fill="#1e5cc0"/><circle cx="53.1" cy="303.5" r="0.5" fill="#9ad8f6"/><ellipse cx="56.8" cy="304.8" rx="1.4" ry="1.5" fill="#1e5cc0"/><circle cx="57.1" cy="304.6" r="0.5" fill="#9ad8f6"/><ellipse cx="60.0" cy="304.4" rx="1.5" ry="1.6" fill="#1e5cc0"/><circle cx="60.3" cy="304.2" r="0.5" fill="#9ad8f6"/><ellipse cx="63.8" cy="304.5" rx="1.5" ry="1.6" fill="#1e5cc0"/><circle cx="64.1" cy="304.3" r="0.5" fill="#9ad8f6"/><ellipse cx="66.9" cy="304.0" rx="1.4" ry="1.4" fill="#1e5cc0"/><circle cx="67.2" cy="303.8" r="0.5" fill="#9ad8f6"/><ellipse cx="69.5" cy="303.6" rx="1.5" ry="1.6" fill="#1e5cc0"/><circle cx="69.8" cy="303.4" r="0.5" fill="#9ad8f6"/><ellipse cx="73.8" cy="304.8" rx="1.3" ry="1.9" fill="#1e5cc0"/><circle cx="74.1" cy="304.6" r="0.5" fill="#9ad8f6"/><ellipse cx="76.8" cy="304.7" rx="1.3" ry="1.4" fill="#1e5cc0"/><circle cx="77.1" cy="304.5" r="0.5" fill="#9ad8f6"/><ellipse cx="79.6" cy="303.8" rx="1.4" ry="1.4" fill="#1e5cc0"/><circle cx="79.9" cy="303.6" r="0.5" fill="#9ad8f6"/><ellipse cx="82.8" cy="304.8" rx="1.1" ry="1.6" fill="#1e5cc0"/><circle cx="83.1" cy="304.6" r="0.5" fill="#9ad8f6"/><ellipse cx="86.7" cy="304.5" rx="1.4" ry="1.9" fill="#1e5cc0"/><circle cx="87.0" cy="304.3" r="0.5" fill="#9ad8f6"/>
<rect x="28.20" y="307.80" width="60.20" height="20.60" fill="#22308c" />
<g clip-path="url(#cdb2)"><ellipse cx="77.3" cy="318.4" rx="2.6" ry="2.5" transform="rotate(51 77.3 318.4)" fill="#b9b9b3" stroke="#e8e6da" stroke-width="0.45" stroke-dasharray="0.6,0.5"/><ellipse cx="52.7" cy="308.2" rx="2.7" ry="1.7" transform="rotate(9 52.7 308.2)" fill="#b9b9b3" stroke="#e8e6da" stroke-width="0.45" stroke-dasharray="0.6,0.5"/><ellipse cx="41.9" cy="316.7" rx="3.0" ry="1.9" transform="rotate(175 41.9 316.7)" fill="#b9b9b3" stroke="#e8e6da" stroke-width="0.45" stroke-dasharray="0.6,0.5"/><ellipse cx="51.7" cy="317.9" rx="2.7" ry="2.6" transform="rotate(122 51.7 317.9)" fill="#b9b9b3" stroke="#e8e6da" stroke-width="0.45" stroke-dasharray="0.6,0.5"/><ellipse cx="44.2" cy="326.4" rx="2.7" ry="1.9" transform="rotate(12 44.2 326.4)" fill="#b9b9b3" stroke="#e8e6da" stroke-width="0.45" stroke-dasharray="0.6,0.5"/><ellipse cx="28.5" cy="322.7" rx="3.0" ry="2.3" transform="rotate(0 28.5 322.7)" fill="#b9b9b3" stroke="#e8e6da" stroke-width="0.45" stroke-dasharray="0.6,0.5"/><ellipse cx="47.0" cy="310.3" rx="2.9" ry="2.3" transform="rotate(126 47.0 310.3)" fill="#b9b9b3" stroke="#e8e6da" stroke-width="0.45" stroke-dasharray="0.6,0.5"/><ellipse cx="58.7" cy="318.2" rx="2.6" ry="2.6" transform="rotate(43 58.7 318.2)" fill="#b9b9b3" stroke="#e8e6da" stroke-width="0.45" stroke-dasharray="0.6,0.5"/><ellipse cx="86.0" cy="315.9" rx="2.4" ry="1.8" transform="rotate(169 86.0 315.9)" fill="#b9b9b3" stroke="#e8e6da" stroke-width="0.45" stroke-dasharray="0.6,0.5"/><ellipse cx="73.1" cy="321.9" rx="2.2" ry="1.7" transform="rotate(123 73.1 321.9)" fill="#b9b9b3" stroke="#e8e6da" stroke-width="0.45" stroke-dasharray="0.6,0.5"/><ellipse cx="66.9" cy="309.5" rx="2.3" ry="1.7" transform="rotate(125 66.9 309.5)" fill="#b9b9b3" stroke="#e8e6da" stroke-width="0.45" stroke-dasharray="0.6,0.5"/><ellipse cx="76.6" cy="311.4" rx="2.6" ry="1.7" transform="rotate(70 76.6 311.4)" fill="#b9b9b3" stroke="#e8e6da" stroke-width="0.45" stroke-dasharray="0.6,0.5"/><ellipse cx="88.7" cy="323.1" rx="2.9" ry="2.6" transform="rotate(146 88.7 323.1)" fill="#b9b9b3" stroke="#e8e6da" stroke-width="0.45" stroke-dasharray="0.6,0.5"/><ellipse cx="57.0" cy="328.2" rx="2.6" ry="2.1" transform="rotate(57 57.0 328.2)" fill="#b9b9b3" stroke="#e8e6da" stroke-width="0.45" stroke-dasharray="0.6,0.5"/><ellipse cx="34.1" cy="326.1" rx="2.6" ry="2.0" transform="rotate(50 34.1 326.1)" fill="#b9b9b3" stroke="#e8e6da" stroke-width="0.45" stroke-dasharray="0.6,0.5"/><ellipse cx="27.8" cy="311.5" rx="2.2" ry="1.4" transform="rotate(62 27.8 311.5)" fill="#b9b9b3" stroke="#e8e6da" stroke-width="0.45" stroke-dasharray="0.6,0.5"/><ellipse cx="40.7" cy="311.7" rx="2.0" ry="1.8" transform="rotate(9 40.7 311.7)" fill="#b9b9b3" stroke="#e8e6da" stroke-width="0.45" stroke-dasharray="0.6,0.5"/><ellipse cx="30.5" cy="307.6" rx="2.4" ry="1.6" transform="rotate(44 30.5 307.6)" fill="#b9b9b3" stroke="#e8e6da" stroke-width="0.45" stroke-dasharray="0.6,0.5"/><ellipse cx="39.5" cy="322.0" rx="2.0" ry="1.5" transform="rotate(90 39.5 322.0)" fill="#b9b9b3" stroke="#e8e6da" stroke-width="0.45" stroke-dasharray="0.6,0.5"/><ellipse cx="84.3" cy="309.3" rx="2.6" ry="2.1" transform="rotate(154 84.3 309.3)" fill="#b9b9b3" stroke="#e8e6da" stroke-width="0.45" stroke-dasharray="0.6,0.5"/><ellipse cx="50.5" cy="326.5" rx="3.0" ry="2.5" transform="rotate(75 50.5 326.5)" fill="#b9b9b3" stroke="#e8e6da" stroke-width="0.45" stroke-dasharray="0.6,0.5"/><ellipse cx="35.6" cy="315.3" rx="2.8" ry="2.6" transform="rotate(171 35.6 315.3)" fill="#b9b9b3" stroke="#e8e6da" stroke-width="0.45" stroke-dasharray="0.6,0.5"/><ellipse cx="57.1" cy="312.6" rx="2.5" ry="1.6" transform="rotate(161 57.1 312.6)" fill="#b9b9b3" stroke="#e8e6da" stroke-width="0.45" stroke-dasharray="0.6,0.5"/><ellipse cx="64.8" cy="319.6" rx="2.5" ry="2.2" transform="rotate(145 64.8 319.6)" fill="#b9b9b3" stroke="#e8e6da" stroke-width="0.45" stroke-dasharray="0.6,0.5"/><ellipse cx="28.3" cy="329.2" rx="3.0" ry="2.2" transform="rotate(172 28.3 329.2)" fill="#b9b9b3" stroke="#e8e6da" stroke-width="0.45" stroke-dasharray="0.6,0.5"/><ellipse cx="62.8" cy="313.3" rx="2.9" ry="1.8" transform="rotate(132 62.8 313.3)" fill="#b9b9b3" stroke="#e8e6da" stroke-width="0.45" stroke-dasharray="0.6,0.5"/><ellipse cx="82.9" cy="320.0" rx="2.4" ry="1.7" transform="rotate(44 82.9 320.0)" fill="#b9b9b3" stroke="#e8e6da" stroke-width="0.45" stroke-dasharray="0.6,0.5"/><ellipse cx="68.1" cy="325.1" rx="1.9" ry="1.9" transform="rotate(173 68.1 325.1)" fill="#b9b9b3" stroke="#e8e6da" stroke-width="0.45" stroke-dasharray="0.6,0.5"/><ellipse cx="60.4" cy="307.9" rx="3.1" ry="2.2" transform="rotate(97 60.4 307.9)" fill="#b9b9b3" stroke="#e8e6da" stroke-width="0.45" stroke-dasharray="0.6,0.5"/><ellipse cx="62.3" cy="324.8" rx="2.7" ry="2.5" transform="rotate(124 62.3 324.8)" fill="#b9b9b3" stroke="#e8e6da" stroke-width="0.45" stroke-dasharray="0.6,0.5"/><ellipse cx="83.0" cy="329.0" rx="2.3" ry="1.7" transform="rotate(62 83.0 329.0)" fill="#b9b9b3" stroke="#e8e6da" stroke-width="0.45" stroke-dasharray="0.6,0.5"/><ellipse cx="29.3" cy="317.1" rx="2.2" ry="2.0" transform="rotate(10 29.3 317.1)" fill="#b9b9b3" stroke="#e8e6da" stroke-width="0.45" stroke-dasharray="0.6,0.5"/><ellipse cx="75.8" cy="327.8" rx="2.6" ry="2.2" transform="rotate(172 75.8 327.8)" fill="#b9b9b3" stroke="#e8e6da" stroke-width="0.45" stroke-dasharray="0.6,0.5"/><ellipse cx="71.9" cy="307.4" rx="3.0" ry="1.9" transform="rotate(122 71.9 307.4)" fill="#b9b9b3" stroke="#e8e6da" stroke-width="0.45" stroke-dasharray="0.6,0.5"/><ellipse cx="69.9" cy="313.5" rx="2.7" ry="1.8" transform="rotate(161 69.9 313.5)" fill="#b9b9b3" stroke="#e8e6da" stroke-width="0.45" stroke-dasharray="0.6,0.5"/><ellipse cx="36.3" cy="309.4" rx="2.2" ry="1.4" transform="rotate(76 36.3 309.4)" fill="#b9b9b3" stroke="#e8e6da" stroke-width="0.45" stroke-dasharray="0.6,0.5"/><ellipse cx="80.8" cy="324.6" rx="2.2" ry="1.5" transform="rotate(100 80.8 324.6)" fill="#b9b9b3" stroke="#e8e6da" stroke-width="0.45" stroke-dasharray="0.6,0.5"/><ellipse cx="88.8" cy="328.7" rx="2.1" ry="2.0" transform="rotate(105 88.8 328.7)" fill="#b9b9b3" stroke="#e8e6da" stroke-width="0.45" stroke-dasharray="0.6,0.5"/><ellipse cx="47.0" cy="322.0" rx="2.3" ry="1.7" transform="rotate(165 47.0 322.0)" fill="#b9b9b3" stroke="#e8e6da" stroke-width="0.45" stroke-dasharray="0.6,0.5"/><ellipse cx="34.1" cy="320.8" rx="2.4" ry="1.9" transform="rotate(126 34.1 320.8)" fill="#b9b9b3" stroke="#e8e6da" stroke-width="0.45" stroke-dasharray="0.6,0.5"/><ellipse cx="38.9" cy="328.0" rx="2.4" ry="1.7" transform="rotate(142 38.9 328.0)" fill="#b9b9b3" stroke="#e8e6da" stroke-width="0.45" stroke-dasharray="0.6,0.5"/></g>
<line x1="30.60" y1="274.50" x2="30.60" y2="287.90" stroke="#111" stroke-width="1.4" />
<path d="M30.60,293.90 L27.10,286.90 L30.60,288.65 L34.10,286.90 Z" stroke="none" stroke-width="0" fill="#111" />
<line x1="41.50" y1="274.50" x2="41.50" y2="287.90" stroke="#111" stroke-width="1.4" />
<path d="M41.50,293.90 L38.00,286.90 L41.50,288.65 L45.00,286.90 Z" stroke="none" stroke-width="0" fill="#111" />
<line x1="52.40" y1="274.50" x2="52.40" y2="287.90" stroke="#111" stroke-width="1.4" />
<path d="M52.40,293.90 L48.90,286.90 L52.40,288.65 L55.90,286.90 Z" stroke="none" stroke-width="0" fill="#111" />
<line x1="63.30" y1="274.50" x2="63.30" y2="287.90" stroke="#111" stroke-width="1.4" />
<path d="M63.30,293.90 L59.80,286.90 L63.30,288.65 L66.80,286.90 Z" stroke="none" stroke-width="0" fill="#111" />
<line x1="74.30" y1="274.50" x2="74.30" y2="287.90" stroke="#111" stroke-width="1.4" />
<path d="M74.30,293.90 L70.80,286.90 L74.30,288.65 L77.80,286.90 Z" stroke="none" stroke-width="0" fill="#111" />
<line x1="85.30" y1="274.50" x2="85.30" y2="287.90" stroke="#111" stroke-width="1.4" />
<path d="M85.30,293.90 L81.80,286.90 L85.30,288.65 L88.80,286.90 Z" stroke="none" stroke-width="0" fill="#111" />
<rect x="29.95" y="299.50" width="1.50" height="16.50" fill="url(#redfade)" />
<path d="M30.70,295.0 L28.10,301.0 L33.30,301.0 Z" stroke="none" stroke-width="0" fill="#c4001e" />
<rect x="43.95" y="299.50" width="1.50" height="16.50" fill="url(#redfade)" />
<path d="M44.70,295.0 L42.10,301.0 L47.30,301.0 Z" stroke="none" stroke-width="0" fill="#c4001e" />
<rect x="57.65" y="299.50" width="1.50" height="16.50" fill="url(#redfade)" />
<path d="M58.40,295.0 L55.80,301.0 L61.00,301.0 Z" stroke="none" stroke-width="0" fill="#c4001e" />
<rect x="71.25" y="299.50" width="1.50" height="16.50" fill="url(#redfade)" />
<path d="M72.00,295.0 L69.40,301.0 L74.60,301.0 Z" stroke="none" stroke-width="0" fill="#c4001e" />
<rect x="84.95" y="299.50" width="1.50" height="16.50" fill="url(#redfade)" />
<path d="M85.70,295.0 L83.10,301.0 L88.30,301.0 Z" stroke="none" stroke-width="0" fill="#c4001e" />
<g clip-path="url(#cd1)">
<rect x="110.00" y="190.00" width="42.00" height="42.00" fill="#22308c" />
<path d="M110.0,190.0h3.5v0.5h-3.5zM118.0,190.0h2.0v0.5h-2.0zM122.0,190.0h3.5v0.5h-3.5zM142.0,190.0h2.0v0.5h-2.0zM148.0,190.0h4.0v0.5h-4.0zM110.0,190.5h3.0v0.5h-3.0zM117.5,190.5h8.0v0.5h-8.0zM142.0,190.5h2.0v0.5h-2.0zM147.5,190.5h4.5v0.5h-4.5zM110.0,191.0h1.5v0.5h-1.5zM117.5,191.0h8.0v0.5h-8.0zM142.5,191.0h1.5v0.5h-1.5zM147.5,191.0h4.5v0.5h-4.5zM110.0,191.5h0.5v0.5h-0.5zM117.5,191.5h8.0v0.5h-8.0zM143.0,191.5h0.5v0.5h-0.5zM148.0,191.5h4.0v0.5h-4.0zM118.0,192.0h7.5v0.5h-7.5zM130.5,192.0h2.0v0.5h-2.0zM136.0,192.0h2.0v0.5h-2.0zM148.0,192.0h4.0v0.5h-4.0zM118.0,192.5h5.5v0.5h-5.5zM129.5,192.5h9.0v0.5h-9.0zM148.5,192.5h3.5v0.5h-3.5zM118.0,193.0h4.5v0.5h-4.5zM129.0,193.0h10.0v0.5h-10.0zM149.0,193.0h3.0v0.5h-3.0zM118.0,193.5h4.0v0.5h-4.0zM128.5,193.5h10.5v0.5h-10.5zM118.5,194.0h3.5v0.5h-3.5zM128.0,194.0h11.0v0.5h-11.0zM118.5,194.5h3.5v0.5h-3.5zM128.0,194.5h11.0v0.5h-11.0zM142.5,194.5h2.0v0.5h-2.0zM110.0,195.0h0.5v0.5h-0.5zM113.5,195.0h2.0v0.5h-2.0zM118.5,195.0h3.5v0.5h-3.5zM128.0,195.0h10.5v0.5h-10.5zM141.5,195.0h3.5v0.5h-3.5zM110.0,195.5h1.0v0.5h-1.0zM113.0,195.5h3.0v0.5h-3.0zM119.0,195.5h3.5v0.5h-3.5zM128.0,195.5h9.5v0.5h-9.5zM141.0,195.5h5.0v0.5h-5.0zM110.0,196.0h6.5v0.5h-6.5zM119.0,196.0h4.0v0.5h-4.0zM128.0,196.0h9.0v0.5h-9.0zM140.0,196.0h6.5v0.5h-6.5zM110.0,196.5h6.0v0.5h-6.0zM119.0,196.5h4.0v0.5h-4.0zM128.0,196.5h9.0v0.5h-9.0zM140.0,196.5h7.0v0.5h-7.0zM110.0,197.0h1.5v0.5h-1.5zM113.0,197.0h2.5v0.5h-2.5zM119.5,197.0h4.0v0.5h-4.0zM128.0,197.0h9.0v0.5h-9.0zM139.5,197.0h7.5v0.5h-7.5zM110.0,197.5h1.5v0.5h-1.5zM119.5,197.5h4.0v0.5h-4.0zM128.0,197.5h8.5v0.5h-8.5zM139.5,197.5h7.5v0.5h-7.5zM110.0,198.0h1.0v0.5h-1.0zM120.0,198.0h3.5v0.5h-3.5zM128.0,198.0h3.5v0.5h-3.5zM134.5,198.0h2.0v0.5h-2.0zM139.5,198.0h6.5v0.5h-6.5zM110.0,198.5h0.5v0.5h-0.5zM120.0,198.5h3.0v0.5h-3.0zM128.0,198.5h3.0v0.5h-3.0zM140.0,198.5h2.5v0.5h-2.5zM150.5,198.5h1.5v0.5h-1.5zM110.0,199.0h0.5v0.5h-0.5zM120.5,199.0h2.5v0.5h-2.5zM127.5,199.0h3.0v0.5h-3.0zM150.0,199.0h2.0v0.5h-2.0zM110.0,199.5h0.5v0.5h-0.5zM121.0,199.5h1.0v0.5h-1.0zM127.5,199.5h2.5v0.5h-2.5zM149.5,199.5h2.5v0.5h-2.5zM110.0,200.0h1.0v0.5h-1.0zM127.0,200.0h2.5v0.5h-2.5zM149.0,200.0h3.0v0.5h-3.0zM110.0,200.5h1.5v0.5h-1.5zM126.0,200.5h3.0v0.5h-3.0zM137.0,200.5h0.5v0.5h-0.5zM148.5,200.5h3.5v0.5h-3.5zM110.0,201.0h2.0v0.5h-2.0zM125.5,201.0h3.5v0.5h-3.5zM137.0,201.0h0.5v0.5h-0.5zM147.5,201.0h3.5v0.5h-3.5zM110.0,201.5h4.0v0.5h-4.0zM125.5,201.5h3.5v0.5h-3.5zM136.5,201.5h1.0v0.5h-1.0zM147.0,201.5h3.5v0.5h-3.5zM110.0,202.0h5.0v0.5h-5.0zM119.5,202.0h1.5v0.5h-1.5zM125.5,202.0h3.5v0.5h-3.5zM136.5,202.0h1.0v0.5h-1.0zM146.5,202.0h4.0v0.5h-4.0zM110.0,202.5h6.5v0.5h-6.5zM118.0,202.5h3.5v0.5h-3.5zM125.5,202.5h3.5v0.5h-3.5zM136.5,202.5h1.0v0.5h-1.0zM146.0,202.5h4.0v0.5h-4.0zM110.0,203.0h12.5v0.5h-12.5zM126.0,203.0h4.0v0.5h-4.0zM136.5,203.0h1.0v0.5h-1.0zM146.0,203.0h4.0v0.5h-4.0zM110.0,203.5h13.5v0.5h-13.5zM127.5,203.5h3.5v0.5h-3.5zM136.5,203.5h0.5v0.5h-0.5zM146.0,203.5h4.0v0.5h-4.0zM110.5,204.0h14.0v0.5h-14.0zM128.0,204.0h4.0v0.5h-4.0zM146.0,204.0h4.0v0.5h-4.0zM112.0,204.5h12.5v0.5h-12.5zM128.5,204.5h4.5v0.5h-4.5zM146.0,204.5h3.5v0.5h-3.5zM113.0,205.0h11.5v0.5h-11.5zM128.5,205.0h5.0v0.5h-5.0zM146.0,205.0h3.0v0.5h-3.0zM116.5,205.5h8.0v0.5h-8.0zM128.5,205.5h5.0v0.5h-5.0zM146.0,205.5h2.5v0.5h-2.5zM118.0,206.0h6.0v0.5h-6.0zM129.0,206.0h4.5v0.5h-4.5zM141.0,206.0h2.5v0.5h-2.5zM145.0,206.0h2.5v0.5h-2.5zM129.0,206.5h4.5v0.5h-4.5zM140.0,206.5h7.5v0.5h-7.5zM129.5,207.0h4.0v0.5h-4.0zM139.0,207.0h8.5v0.5h-8.5zM129.5,207.5h4.5v0.5h-4.5zM138.5,207.5h9.5v0.5h-9.5zM129.5,208.0h4.5v0.5h-4.5zM138.5,208.0h9.5v0.5h-9.5zM129.0,208.5h5.0v0.5h-5.0zM138.5,208.5h10.0v0.5h-10.0zM129.0,209.0h5.5v0.5h-5.5zM144.0,209.0h5.0v0.5h-5.0zM110.0,209.5h2.0v0.5h-2.0zM128.0,209.5h7.0v0.5h-7.0zM144.5,209.5h5.0v0.5h-5.0zM110.0,210.0h2.0v0.5h-2.0zM115.5,210.0h2.0v0.5h-2.0zM127.0,210.0h8.5v0.5h-8.5zM145.0,210.0h5.0v0.5h-5.0zM110.0,210.5h2.0v0.5h-2.0zM114.0,210.5h4.5v0.5h-4.5zM126.0,210.5h9.5v0.5h-9.5zM145.5,210.5h4.5v0.5h-4.5zM110.0,211.0h1.5v0.5h-1.5zM113.5,211.0h5.5v0.5h-5.5zM125.0,211.0h10.5v0.5h-10.5zM145.5,211.0h5.0v0.5h-5.0zM110.0,211.5h1.5v0.5h-1.5zM113.5,211.5h6.5v0.5h-6.5zM121.0,211.5h14.5v0.5h-14.5zM145.5,211.5h5.0v0.5h-5.0zM110.0,212.0h1.5v0.5h-1.5zM113.5,212.0h22.0v0.5h-22.0zM145.5,212.0h5.0v0.5h-5.0zM110.0,212.5h1.0v0.5h-1.0zM113.5,212.5h17.5v0.5h-17.5zM133.0,212.5h1.5v0.5h-1.5zM145.5,212.5h5.0v0.5h-5.0zM110.0,213.0h1.0v0.5h-1.0zM113.5,213.0h16.0v0.5h-16.0zM146.0,213.0h4.5v0.5h-4.5zM110.0,213.5h1.0v0.5h-1.0zM113.5,213.5h5.0v0.5h-5.0zM120.5,213.5h6.0v0.5h-6.0zM146.0,213.5h4.5v0.5h-4.5zM110.0,214.0h1.0v0.5h-1.0zM113.5,214.0h4.5v0.5h-4.5zM121.0,214.0h4.0v0.5h-4.0zM139.0,214.0h2.0v0.5h-2.0zM146.5,214.0h3.5v0.5h-3.5zM110.0,214.5h1.0v0.5h-1.0zM113.5,214.5h4.0v0.5h-4.0zM122.0,214.5h2.0v0.5h-2.0zM139.0,214.5h3.0v0.5h-3.0zM147.0,214.5h2.5v0.5h-2.5zM113.5,215.0h3.0v0.5h-3.0zM139.0,215.0h3.5v0.5h-3.5zM113.5,215.5h2.5v0.5h-2.5zM139.0,215.5h4.0v0.5h-4.0zM113.0,216.0h2.5v0.5h-2.5zM139.0,216.0h4.5v0.5h-4.5zM113.5,216.5h2.0v0.5h-2.0zM139.5,216.5h4.5v0.5h-4.5zM113.5,217.0h2.0v0.5h-2.0zM139.5,217.0h5.0v0.5h-5.0zM114.0,217.5h1.0v0.5h-1.0zM124.5,217.5h4.0v0.5h-4.0zM139.5,217.5h5.5v0.5h-5.5zM121.0,218.0h7.5v0.5h-7.5zM139.5,218.0h5.5v0.5h-5.5zM120.5,218.5h5.5v0.5h-5.5zM133.5,218.5h2.5v0.5h-2.5zM139.5,218.5h6.0v0.5h-6.0zM120.5,219.0h4.0v0.5h-4.0zM133.0,219.0h3.5v0.5h-3.5zM139.5,219.0h6.0v0.5h-6.0zM120.5,219.5h3.5v0.5h-3.5zM132.5,219.5h4.5v0.5h-4.5zM139.5,219.5h6.0v0.5h-6.0zM149.5,219.5h1.5v0.5h-1.5zM121.0,220.0h2.5v0.5h-2.5zM132.5,220.0h5.0v0.5h-5.0zM139.5,220.0h6.0v0.5h-6.0zM149.0,220.0h3.0v0.5h-3.0zM121.0,220.5h2.5v0.5h-2.5zM132.5,220.5h5.5v0.5h-5.5zM139.0,220.5h6.0v0.5h-6.0zM148.5,220.5h3.5v0.5h-3.5zM110.0,221.0h0.5v0.5h-0.5zM121.0,221.0h2.0v0.5h-2.0zM130.0,221.0h0.5v0.5h-0.5zM132.5,221.0h12.5v0.5h-12.5zM148.5,221.0h3.5v0.5h-3.5zM110.0,221.5h1.0v0.5h-1.0zM121.0,221.5h2.0v0.5h-2.0zM129.5,221.5h1.5v0.5h-1.5zM133.5,221.5h11.0v0.5h-11.0zM148.5,221.5h3.5v0.5h-3.5zM110.0,222.0h1.5v0.5h-1.5zM115.5,222.0h1.0v0.5h-1.0zM121.0,222.0h2.0v0.5h-2.0zM129.0,222.0h2.0v0.5h-2.0zM134.0,222.0h3.0v0.5h-3.0zM148.5,222.0h3.5v0.5h-3.5zM110.0,222.5h2.0v0.5h-2.0zM114.5,222.5h2.0v0.5h-2.0zM120.5,222.5h2.5v0.5h-2.5zM128.5,222.5h2.5v0.5h-2.5zM149.0,222.5h3.0v0.5h-3.0zM110.0,223.0h3.0v0.5h-3.0zM114.0,223.0h2.5v0.5h-2.5zM120.5,223.0h3.0v0.5h-3.0zM128.0,223.0h3.0v0.5h-3.0zM149.5,223.0h2.5v0.5h-2.5zM110.0,223.5h7.0v0.5h-7.0zM120.0,223.5h3.5v0.5h-3.5zM127.5,223.5h3.5v0.5h-3.5zM151.0,223.5h1.0v0.5h-1.0zM110.0,224.0h7.0v0.5h-7.0zM119.5,224.0h4.0v0.5h-4.0zM127.0,224.0h4.0v0.5h-4.0zM145.5,224.0h1.0v0.5h-1.0zM110.0,224.5h7.5v0.5h-7.5zM119.0,224.5h5.0v0.5h-5.0zM126.5,224.5h4.5v0.5h-4.5zM145.5,224.5h1.5v0.5h-1.5zM110.0,225.0h8.0v0.5h-8.0zM118.5,225.0h5.5v0.5h-5.5zM126.0,225.0h5.0v0.5h-5.0zM145.5,225.0h2.0v0.5h-2.0zM110.5,225.5h2.0v0.5h-2.0zM114.5,225.5h9.5v0.5h-9.5zM125.5,225.5h5.5v0.5h-5.5zM145.5,225.5h2.0v0.5h-2.0zM115.5,226.0h3.0v0.5h-3.0zM121.0,226.0h1.5v0.5h-1.5zM125.0,226.0h6.5v0.5h-6.5zM146.0,226.0h2.0v0.5h-2.0zM115.5,226.5h2.5v0.5h-2.5zM125.0,226.5h7.0v0.5h-7.0zM138.5,226.5h1.0v0.5h-1.0zM146.0,226.5h2.0v0.5h-2.0zM116.0,227.0h1.5v0.5h-1.5zM125.0,227.0h8.5v0.5h-8.5zM137.5,227.0h2.5v0.5h-2.5zM146.5,227.0h1.5v0.5h-1.5zM125.0,227.5h9.0v0.5h-9.0zM137.5,227.5h3.0v0.5h-3.0zM147.0,227.5h1.0v0.5h-1.0zM124.5,228.0h2.5v0.5h-2.5zM130.5,228.0h3.5v0.5h-3.5zM137.0,228.0h4.0v0.5h-4.0zM147.0,228.0h1.0v0.5h-1.0zM111.0,228.5h2.0v0.5h-2.0zM124.5,228.5h2.0v0.5h-2.0zM131.5,228.5h2.5v0.5h-2.5zM137.0,228.5h4.5v0.5h-4.5zM146.5,228.5h1.5v0.5h-1.5zM110.0,229.0h3.5v0.5h-3.5zM124.5,229.0h1.5v0.5h-1.5zM132.0,229.0h1.5v0.5h-1.5zM137.0,229.0h5.0v0.5h-5.0zM146.0,229.0h2.0v0.5h-2.0zM110.0,229.5h3.5v0.5h-3.5zM124.0,229.5h2.0v0.5h-2.0zM137.0,229.5h5.0v0.5h-5.0zM145.0,229.5h3.5v0.5h-3.5zM110.0,230.0h3.5v0.5h-3.5zM124.0,230.0h2.0v0.5h-2.0zM137.0,230.0h5.5v0.5h-5.5zM144.0,230.0h4.5v0.5h-4.5zM110.0,230.5h3.5v0.5h-3.5zM123.5,230.5h2.5v0.5h-2.5zM137.0,230.5h11.5v0.5h-11.5zM110.0,231.0h3.5v0.5h-3.5zM123.0,231.0h3.0v0.5h-3.0zM137.0,231.0h11.5v0.5h-11.5zM110.0,231.5h3.5v0.5h-3.5zM122.5,231.5h3.5v0.5h-3.5zM137.0,231.5h5.5v0.5h-5.5zM143.5,231.5h5.5v0.5h-5.5z" fill="#b9b9b3"/>
</g>
<circle cx="130.6" cy="210.1" r="21.2" fill="none" stroke="#666" stroke-width="0.8" stroke-dasharray="2,1.5"/>
<g clip-path="url(#cd2)">
<rect x="110.00" y="273.00" width="42.00" height="42.00" fill="#22308c" />
<ellipse cx="120.4" cy="280.7" rx="4.9" ry="3.5" transform="rotate(-30 120.4 280.7)" fill="#b9b9b3" stroke="#e6e2c6" stroke-width="0.6" stroke-dasharray="0.7,0.5"/><ellipse cx="129.1" cy="285.8" rx="2.8" ry="5.1" transform="rotate(8 129.1 285.8)" fill="#b9b9b3" stroke="#e6e2c6" stroke-width="0.6" stroke-dasharray="0.7,0.5"/><ellipse cx="140.4" cy="278.6" rx="4.5" ry="2.6" transform="rotate(30 140.4 278.6)" fill="#b9b9b3" stroke="#e6e2c6" stroke-width="0.6" stroke-dasharray="0.7,0.5"/><ellipse cx="140.0" cy="289.8" rx="5.1" ry="4.5" transform="rotate(0 140.0 289.8)" fill="#b9b9b3" stroke="#e6e2c6" stroke-width="0.6" stroke-dasharray="0.7,0.5"/><ellipse cx="118.8" cy="291.4" rx="5.3" ry="3.4" transform="rotate(5 118.8 291.4)" fill="#b9b9b3" stroke="#e6e2c6" stroke-width="0.6" stroke-dasharray="0.7,0.5"/><ellipse cx="130.4" cy="300.1" rx="5.8" ry="3.4" transform="rotate(-8 130.4 300.1)" fill="#b9b9b3" stroke="#e6e2c6" stroke-width="0.6" stroke-dasharray="0.7,0.5"/><ellipse cx="117.8" cy="303.7" rx="2.9" ry="5.5" transform="rotate(20 117.8 303.7)" fill="#b9b9b3" stroke="#e6e2c6" stroke-width="0.6" stroke-dasharray="0.7,0.5"/><ellipse cx="145.1" cy="303.4" rx="3.5" ry="5.0" transform="rotate(30 145.1 303.4)" fill="#b9b9b3" stroke="#e6e2c6" stroke-width="0.6" stroke-dasharray="0.7,0.5"/><ellipse cx="133.6" cy="309.8" rx="5.5" ry="3.0" transform="rotate(-10 133.6 309.8)" fill="#b9b9b3" stroke="#e6e2c6" stroke-width="0.6" stroke-dasharray="0.7,0.5"/>
</g>
<circle cx="130.8" cy="293.3" r="21.2" fill="none" stroke="#666" stroke-width="0.8" stroke-dasharray="2,1.5"/>
<line x1="89.00" y1="230.50" x2="111.50" y2="219.50" stroke="#444" stroke-width="0.8" stroke-dasharray="2,1.5"/>
<circle cx="89" cy="230.5" r="1.1" fill="#111"/>
<line x1="89.00" y1="313.50" x2="112.00" y2="304.00" stroke="#444" stroke-width="0.8" stroke-dasharray="2,1.5"/>
<circle cx="89" cy="313.5" r="1.1" fill="#111"/>
<rect x="156.20" y="196.00" width="1.60" height="26.00" fill="url(#redfade2)" />
<path d="M157,190.6 L154.6,197.2 L159.4,197.2 Z" stroke="none" stroke-width="0" fill="#c8102e" />
<rect x="156.80" y="280.00" width="1.40" height="17.00" fill="url(#redfade2)" />
<path d="M157.5,275.2 L155.4,281 L159.6,281 Z" stroke="none" stroke-width="0" fill="#c8102e" />
<text x="101.2" y="243.1" font-size="8.8" fill="#283a92" text-anchor="start"  stroke="#283a92" stroke-width="0.22">High load-bearing</text>
<text x="31.6" y="256.0" font-size="8.85" fill="#283a92" text-anchor="start"  stroke="#283a92" stroke-width="0.22">Bicontinuous interface dissipation</text>
<text x="101.2" y="327.4" font-size="8.8" fill="#c23a5c" text-anchor="start"  stroke="#c23a5c" stroke-width="0.22">Low load-bearing</text>
<text x="41.0" y="340.6" font-size="8.85" fill="#c23a5c" text-anchor="start"  stroke="#c23a5c" stroke-width="0.22">Isolated interface dissipation</text>
<line x1="221.90" y1="318.20" x2="224.40" y2="318.20" stroke="#444" stroke-width="0.8" />
<text x="220.4" y="321.2" font-size="8.6" fill="#222" text-anchor="end"  stroke="#222" stroke-width="0.22">0</text>
<line x1="221.90" y1="293.87" x2="224.40" y2="293.87" stroke="#444" stroke-width="0.8" />
<text x="220.4" y="296.9" font-size="8.6" fill="#222" text-anchor="end"  stroke="#222" stroke-width="0.22">20</text>
<line x1="221.90" y1="269.54" x2="224.40" y2="269.54" stroke="#444" stroke-width="0.8" />
<text x="220.4" y="272.5" font-size="8.6" fill="#222" text-anchor="end"  stroke="#222" stroke-width="0.22">40</text>
<line x1="221.90" y1="245.21" x2="224.40" y2="245.21" stroke="#444" stroke-width="0.8" />
<text x="220.4" y="248.2" font-size="8.6" fill="#222" text-anchor="end"  stroke="#222" stroke-width="0.22">60</text>
<line x1="221.90" y1="220.88" x2="224.40" y2="220.88" stroke="#444" stroke-width="0.8" />
<text x="220.4" y="223.9" font-size="8.6" fill="#222" text-anchor="end"  stroke="#222" stroke-width="0.22">80</text>
<line x1="221.90" y1="196.55" x2="224.40" y2="196.55" stroke="#444" stroke-width="0.8" />
<text x="220.4" y="199.6" font-size="8.6" fill="#222" text-anchor="end"  stroke="#222" stroke-width="0.22">100</text>
<line x1="222.90" y1="306.03" x2="224.40" y2="306.03" stroke="#444" stroke-width="0.7" />
<line x1="222.90" y1="281.70" x2="224.40" y2="281.70" stroke="#444" stroke-width="0.7" />
<line x1="222.90" y1="257.38" x2="224.40" y2="257.38" stroke="#444" stroke-width="0.7" />
<line x1="222.90" y1="233.04" x2="224.40" y2="233.04" stroke="#444" stroke-width="0.7" />
<line x1="222.90" y1="208.72" x2="224.40" y2="208.72" stroke="#444" stroke-width="0.7" />
<line x1="224.90" y1="318.70" x2="224.90" y2="321.20" stroke="#444" stroke-width="0.8" />
<text x="224.9" y="329.7" font-size="8.6" fill="#222" text-anchor="middle"  stroke="#222" stroke-width="0.22">0</text>
<line x1="256.60" y1="318.70" x2="256.60" y2="321.20" stroke="#444" stroke-width="0.8" />
<text x="256.6" y="329.7" font-size="8.6" fill="#222" text-anchor="middle"  stroke="#222" stroke-width="0.22">500</text>
<line x1="288.30" y1="318.70" x2="288.30" y2="321.20" stroke="#444" stroke-width="0.8" />
<text x="288.3" y="329.7" font-size="8.6" fill="#222" text-anchor="middle"  stroke="#222" stroke-width="0.22">1000</text>
<line x1="320.00" y1="318.70" x2="320.00" y2="321.20" stroke="#444" stroke-width="0.8" />
<text x="320.0" y="329.7" font-size="8.6" fill="#222" text-anchor="middle"  stroke="#222" stroke-width="0.22">1500</text>
<line x1="351.70" y1="318.70" x2="351.70" y2="321.20" stroke="#444" stroke-width="0.8" />
<text x="351.7" y="329.7" font-size="8.6" fill="#222" text-anchor="middle"  stroke="#222" stroke-width="0.22">2000</text>
<line x1="240.75" y1="318.70" x2="240.75" y2="320.20" stroke="#444" stroke-width="0.7" />
<line x1="272.45" y1="318.70" x2="272.45" y2="320.20" stroke="#444" stroke-width="0.7" />
<line x1="304.15" y1="318.70" x2="304.15" y2="320.20" stroke="#444" stroke-width="0.7" />
<line x1="335.85" y1="318.70" x2="335.85" y2="320.20" stroke="#444" stroke-width="0.7" />
<text x="288.0" y="344.2" font-size="10.7" fill="#222" text-anchor="middle"  stroke="#222" stroke-width="0.22">Time (s)</text>
<text x="0.0" y="0.0" font-size="10.6" fill="#222" text-anchor="middle" transform="translate(200.3,257.2) rotate(-90)" stroke="#222" stroke-width="0.22">Strain (%)</text>
<path d="M225,318.2 L226.3,281 L240,280.6 L295,279.6 L340.4,279.1 L340.9,318.4" stroke="#d2506e" stroke-width="1.1" fill="none" />
<path d="M225,318.2 L226.3,288.8 L240.6,287.4 L295,286.4 L341.1,285.8 L341.5,318.4" stroke="#2a5aa8" stroke-width="1.1" fill="none" />
<path d="M225.3,318.2 L227.3,238.7 C228,236 229,235.7 230.4,235.6 L240.6,233.6 L295,231.8 L342.8,231.2 L346.2,318.4" stroke="#333" stroke-width="0.9" fill="none" />
<path d="M224.7,318.2 L231.5,236.4 C232.5,235.3 233.3,235.2 234.2,235.1 L245.8,233.6 L255,232.6 L265,230.6" stroke="#86289c" stroke-width="1.1" fill="none" />
<rect x="224.40" y="196.60" width="127.30" height="122.10" fill="none" stroke="#444" stroke-width="0.9"/>
<text x="232.1" y="222.2" font-size="9" fill="#86289c" text-anchor="start"  stroke="#86289c" stroke-width="0.22">PMAA-CB</text>
<text x="263.0" y="248.1" font-size="8.9" fill="#444" text-anchor="start"  stroke="#444" stroke-width="0.22">PMAAm-CB</text>
<text x="282.5" y="272" fill="#c23a5c" font-size="9" stroke="#c23a5c" stroke-width="0.22"><tspan font-size="4.8" dy="-3.2">Iso</tspan><tspan dy="3.2">Gel-CB</tspan></text>
<text x="302" y="297.9" fill="#283a92" font-size="9" stroke="#283a92" stroke-width="0.22"><tspan font-size="4.8" dy="-3.2">Bi</tspan><tspan dy="3.2">Gel-CB</tspan></text>
<rect x="383" y="184.9" width="122.4" height="160.3" fill="none" stroke="#7a7a7a" stroke-width="1.1" stroke-dasharray="4.3,3.1"/>
<text x="387.6" y="195.6" font-size="9" fill="#222" text-anchor="start" font-weight="bold" stroke="#222" stroke-width="0.22">i</text>
<text x="386.9" y="274.3" font-size="9" fill="#222" text-anchor="start" font-weight="bold" stroke="#222" stroke-width="0.22">ii</text>
<g clip-path="url(#cs31)"><rect x="399.9" y="203.5" width="34.6" height="39.3" fill="#22308c"/><path d="M399.9,203.5h0.5v0.5h-0.5zM403.4,203.5h5.0v0.5h-5.0zM414.4,203.5h5.5v0.5h-5.5zM422.4,203.5h4.0v0.5h-4.0zM399.9,204.0h1.0v0.5h-1.0zM403.4,204.0h5.5v0.5h-5.5zM411.9,204.0h14.5v0.5h-14.5zM399.9,204.5h1.0v0.5h-1.0zM402.9,204.5h23.0v0.5h-23.0zM399.9,205.0h1.0v0.5h-1.0zM402.9,205.0h12.0v0.5h-12.0zM418.4,205.0h7.0v0.5h-7.0zM399.9,205.5h1.0v0.5h-1.0zM403.4,205.5h11.5v0.5h-11.5zM418.9,205.5h2.0v0.5h-2.0zM422.9,205.5h2.0v0.5h-2.0zM399.9,206.0h1.0v0.5h-1.0zM406.9,206.0h8.0v0.5h-8.0zM399.9,206.5h1.5v0.5h-1.5zM407.4,206.5h7.5v0.5h-7.5zM399.9,207.0h1.5v0.5h-1.5zM407.4,207.0h7.5v0.5h-7.5zM423.9,207.0h1.0v0.5h-1.0zM428.4,207.0h0.5v0.5h-0.5zM399.9,207.5h2.0v0.5h-2.0zM407.9,207.5h1.0v0.5h-1.0zM411.9,207.5h3.0v0.5h-3.0zM423.4,207.5h2.0v0.5h-2.0zM399.9,208.0h3.0v0.5h-3.0zM411.9,208.0h3.0v0.5h-3.0zM418.9,208.0h0.5v0.5h-0.5zM422.9,208.0h3.5v0.5h-3.5zM400.9,208.5h2.5v0.5h-2.5zM412.4,208.5h2.5v0.5h-2.5zM418.4,208.5h1.5v0.5h-1.5zM422.9,208.5h5.0v0.5h-5.0zM400.9,209.0h3.0v0.5h-3.0zM406.4,209.0h1.5v0.5h-1.5zM412.4,209.0h2.5v0.5h-2.5zM417.9,209.0h2.0v0.5h-2.0zM422.9,209.0h5.5v0.5h-5.5zM401.4,209.5h3.0v0.5h-3.0zM405.9,209.5h2.0v0.5h-2.0zM411.9,209.5h3.0v0.5h-3.0zM417.9,209.5h2.0v0.5h-2.0zM422.9,209.5h5.5v0.5h-5.5zM401.9,210.0h6.5v0.5h-6.5zM411.9,210.0h3.0v0.5h-3.0zM417.4,210.0h2.0v0.5h-2.0zM422.9,210.0h6.0v0.5h-6.0zM401.9,210.5h6.5v0.5h-6.5zM411.9,210.5h3.0v0.5h-3.0zM417.4,210.5h2.0v0.5h-2.0zM423.9,210.5h5.0v0.5h-5.0zM402.4,211.0h6.0v0.5h-6.0zM411.9,211.0h3.0v0.5h-3.0zM416.9,211.0h2.0v0.5h-2.0zM425.9,211.0h3.0v0.5h-3.0zM404.4,211.5h4.0v0.5h-4.0zM411.4,211.5h3.0v0.5h-3.0zM416.4,211.5h2.5v0.5h-2.5zM426.4,211.5h2.5v0.5h-2.5zM404.9,212.0h3.5v0.5h-3.5zM411.4,212.0h2.5v0.5h-2.5zM415.9,212.0h3.5v0.5h-3.5zM427.4,212.0h1.5v0.5h-1.5zM405.4,212.5h3.0v0.5h-3.0zM410.9,212.5h3.0v0.5h-3.0zM415.9,212.5h3.5v0.5h-3.5zM427.9,212.5h1.0v0.5h-1.0zM405.4,213.0h2.5v0.5h-2.5zM410.9,213.0h2.5v0.5h-2.5zM415.9,213.0h4.0v0.5h-4.0zM421.9,213.0h1.0v0.5h-1.0zM404.9,213.5h3.0v0.5h-3.0zM410.9,213.5h2.5v0.5h-2.5zM415.9,213.5h4.0v0.5h-4.0zM421.9,213.5h1.5v0.5h-1.5zM404.9,214.0h3.0v0.5h-3.0zM411.4,214.0h2.0v0.5h-2.0zM415.9,214.0h4.0v0.5h-4.0zM422.4,214.0h1.5v0.5h-1.5zM399.9,214.5h0.5v0.5h-0.5zM404.4,214.5h3.5v0.5h-3.5zM411.9,214.5h1.5v0.5h-1.5zM415.9,214.5h4.0v0.5h-4.0zM422.4,214.5h2.0v0.5h-2.0zM399.9,215.0h1.0v0.5h-1.0zM404.4,215.0h3.5v0.5h-3.5zM412.4,215.0h0.5v0.5h-0.5zM416.4,215.0h3.5v0.5h-3.5zM422.9,215.0h2.5v0.5h-2.5zM399.9,215.5h1.5v0.5h-1.5zM404.4,215.5h3.5v0.5h-3.5zM416.9,215.5h3.0v0.5h-3.0zM422.9,215.5h3.5v0.5h-3.5zM399.9,216.0h2.0v0.5h-2.0zM404.4,216.0h3.5v0.5h-3.5zM417.4,216.0h2.5v0.5h-2.5zM423.4,216.0h4.0v0.5h-4.0zM399.9,216.5h2.0v0.5h-2.0zM404.9,216.5h3.5v0.5h-3.5zM417.4,216.5h2.5v0.5h-2.5zM423.9,216.5h4.5v0.5h-4.5zM399.9,217.0h1.5v0.5h-1.5zM404.9,217.0h4.0v0.5h-4.0zM411.9,217.0h1.0v0.5h-1.0zM417.9,217.0h2.0v0.5h-2.0zM423.9,217.0h5.0v0.5h-5.0zM399.9,217.5h1.0v0.5h-1.0zM405.4,217.5h8.0v0.5h-8.0zM417.4,217.5h3.0v0.5h-3.0zM424.4,217.5h4.5v0.5h-4.5zM404.9,218.0h9.0v0.5h-9.0zM417.4,218.0h3.0v0.5h-3.0zM424.4,218.0h4.5v0.5h-4.5zM402.4,218.5h1.5v0.5h-1.5zM404.9,218.5h9.0v0.5h-9.0zM416.9,218.5h3.5v0.5h-3.5zM424.9,218.5h4.0v0.5h-4.0zM401.9,219.0h12.5v0.5h-12.5zM416.4,219.0h4.0v0.5h-4.0zM425.4,219.0h3.5v0.5h-3.5zM401.9,219.5h3.0v0.5h-3.0zM405.4,219.5h2.0v0.5h-2.0zM409.9,219.5h4.5v0.5h-4.5zM416.4,219.5h4.0v0.5h-4.0zM401.9,220.0h2.5v0.5h-2.5zM410.4,220.0h4.0v0.5h-4.0zM416.4,220.0h4.0v0.5h-4.0zM401.9,220.5h1.5v0.5h-1.5zM410.9,220.5h3.5v0.5h-3.5zM416.9,220.5h3.5v0.5h-3.5zM402.4,221.0h0.5v0.5h-0.5zM410.9,221.0h3.0v0.5h-3.0zM417.9,221.0h2.5v0.5h-2.5zM406.4,221.5h1.0v0.5h-1.0zM411.4,221.5h2.5v0.5h-2.5zM418.4,221.5h2.0v0.5h-2.0zM424.4,221.5h1.0v0.5h-1.0zM405.9,222.0h2.0v0.5h-2.0zM411.9,222.0h2.0v0.5h-2.0zM418.4,222.0h2.5v0.5h-2.5zM423.9,222.0h2.0v0.5h-2.0zM405.4,222.5h2.5v0.5h-2.5zM411.9,222.5h2.0v0.5h-2.0zM418.4,222.5h3.0v0.5h-3.0zM423.4,222.5h3.0v0.5h-3.0zM404.4,223.0h4.0v0.5h-4.0zM412.4,223.0h1.5v0.5h-1.5zM418.4,223.0h3.0v0.5h-3.0zM423.4,223.0h3.5v0.5h-3.5zM403.9,223.5h4.5v0.5h-4.5zM412.4,223.5h1.0v0.5h-1.0zM418.9,223.5h2.5v0.5h-2.5zM422.4,223.5h6.5v0.5h-6.5zM399.9,224.0h1.0v0.5h-1.0zM402.9,224.0h5.0v0.5h-5.0zM418.9,224.0h2.5v0.5h-2.5zM422.4,224.0h6.5v0.5h-6.5zM399.9,224.5h1.5v0.5h-1.5zM402.9,224.5h4.5v0.5h-4.5zM415.9,224.5h1.0v0.5h-1.0zM421.9,224.5h7.0v0.5h-7.0zM399.9,225.0h1.5v0.5h-1.5zM402.9,225.0h4.0v0.5h-4.0zM414.9,225.0h3.0v0.5h-3.0zM421.9,225.0h4.5v0.5h-4.5zM426.9,225.0h2.0v0.5h-2.0zM399.9,225.5h1.5v0.5h-1.5zM403.4,225.5h3.5v0.5h-3.5zM414.4,225.5h4.0v0.5h-4.0zM421.9,225.5h3.5v0.5h-3.5zM427.4,225.5h1.5v0.5h-1.5zM399.9,226.0h1.0v0.5h-1.0zM403.4,226.0h3.0v0.5h-3.0zM413.9,226.0h4.5v0.5h-4.5zM421.9,226.0h2.5v0.5h-2.5zM427.4,226.0h1.5v0.5h-1.5zM399.9,226.5h1.0v0.5h-1.0zM403.9,226.5h2.5v0.5h-2.5zM409.9,226.5h2.0v0.5h-2.0zM413.9,226.5h4.5v0.5h-4.5zM420.9,226.5h2.5v0.5h-2.5zM427.4,226.5h1.5v0.5h-1.5zM399.9,227.0h0.5v0.5h-0.5zM403.9,227.0h2.0v0.5h-2.0zM409.4,227.0h3.0v0.5h-3.0zM413.4,227.0h4.5v0.5h-4.5zM419.9,227.0h3.5v0.5h-3.5zM427.9,227.0h1.0v0.5h-1.0zM404.4,227.5h1.5v0.5h-1.5zM408.9,227.5h3.5v0.5h-3.5zM413.9,227.5h3.5v0.5h-3.5zM419.4,227.5h3.5v0.5h-3.5zM428.4,227.5h0.5v0.5h-0.5zM404.4,228.0h2.0v0.5h-2.0zM407.9,228.0h4.0v0.5h-4.0zM414.4,228.0h2.0v0.5h-2.0zM418.9,228.0h4.0v0.5h-4.0zM404.4,228.5h7.0v0.5h-7.0zM418.9,228.5h3.5v0.5h-3.5zM404.9,229.0h6.5v0.5h-6.5zM418.9,229.0h3.5v0.5h-3.5zM405.4,229.5h5.5v0.5h-5.5zM419.4,229.5h2.5v0.5h-2.5zM399.9,230.0h1.0v0.5h-1.0zM406.4,230.0h4.0v0.5h-4.0zM419.4,230.0h2.0v0.5h-2.0zM399.9,230.5h1.5v0.5h-1.5zM406.9,230.5h3.5v0.5h-3.5zM419.9,230.5h1.0v0.5h-1.0zM423.9,230.5h3.0v0.5h-3.0zM399.9,231.0h2.5v0.5h-2.5zM407.4,231.0h2.5v0.5h-2.5zM419.9,231.0h1.5v0.5h-1.5zM423.4,231.0h4.5v0.5h-4.5zM399.9,231.5h4.5v0.5h-4.5zM407.9,231.5h2.0v0.5h-2.0zM414.4,231.5h1.0v0.5h-1.0zM419.4,231.5h9.0v0.5h-9.0zM399.9,232.0h5.0v0.5h-5.0zM407.9,232.0h2.0v0.5h-2.0zM413.4,232.0h3.0v0.5h-3.0zM419.4,232.0h4.0v0.5h-4.0zM425.4,232.0h3.5v0.5h-3.5zM399.9,232.5h5.5v0.5h-5.5zM407.9,232.5h2.0v0.5h-2.0zM412.4,232.5h4.0v0.5h-4.0zM419.4,232.5h3.5v0.5h-3.5zM425.9,232.5h3.0v0.5h-3.0zM402.4,233.0h4.0v0.5h-4.0zM407.4,233.0h2.5v0.5h-2.5zM411.9,233.0h5.0v0.5h-5.0zM419.4,233.0h3.5v0.5h-3.5zM426.4,233.0h2.5v0.5h-2.5zM402.9,233.5h13.5v0.5h-13.5zM419.4,233.5h3.5v0.5h-3.5zM426.9,233.5h2.0v0.5h-2.0zM403.4,234.0h13.0v0.5h-13.0zM419.4,234.0h3.5v0.5h-3.5zM404.4,234.5h6.5v0.5h-6.5zM411.4,234.5h5.0v0.5h-5.0zM419.4,234.5h3.5v0.5h-3.5zM405.9,235.0h4.5v0.5h-4.5zM412.4,235.0h4.0v0.5h-4.0zM419.9,235.0h2.5v0.5h-2.5zM406.4,235.5h4.0v0.5h-4.0zM412.9,235.5h4.0v0.5h-4.0zM419.9,235.5h2.5v0.5h-2.5zM399.9,236.0h0.5v0.5h-0.5zM406.9,236.0h3.5v0.5h-3.5zM413.4,236.0h3.5v0.5h-3.5zM419.9,236.0h2.0v0.5h-2.0zM399.9,236.5h2.0v0.5h-2.0zM407.4,236.5h3.0v0.5h-3.0zM413.9,236.5h3.0v0.5h-3.0zM419.4,236.5h2.5v0.5h-2.5zM425.4,236.5h1.0v0.5h-1.0zM399.9,237.0h2.5v0.5h-2.5zM407.4,237.0h2.5v0.5h-2.5zM414.4,237.0h2.0v0.5h-2.0zM418.9,237.0h3.0v0.5h-3.0zM425.4,237.0h1.0v0.5h-1.0zM399.9,237.5h3.0v0.5h-3.0zM407.4,237.5h2.5v0.5h-2.5zM418.9,237.5h3.0v0.5h-3.0zM425.4,237.5h1.5v0.5h-1.5zM399.9,238.0h3.5v0.5h-3.5zM407.9,238.0h2.0v0.5h-2.0zM418.9,238.0h3.5v0.5h-3.5zM424.9,238.0h2.5v0.5h-2.5zM399.9,238.5h3.5v0.5h-3.5zM407.4,238.5h2.0v0.5h-2.0zM419.4,238.5h3.0v0.5h-3.0zM424.9,238.5h3.0v0.5h-3.0zM399.9,239.0h4.0v0.5h-4.0zM407.4,239.0h1.5v0.5h-1.5zM419.4,239.0h3.0v0.5h-3.0zM424.9,239.0h3.5v0.5h-3.5zM399.9,239.5h4.5v0.5h-4.5zM406.4,239.5h2.5v0.5h-2.5zM410.9,239.5h1.0v0.5h-1.0zM419.9,239.5h2.0v0.5h-2.0zM424.9,239.5h3.5v0.5h-3.5zM400.4,240.0h8.5v0.5h-8.5zM409.9,240.0h3.5v0.5h-3.5zM419.9,240.0h2.0v0.5h-2.0zM424.9,240.0h4.0v0.5h-4.0zM403.9,240.5h5.0v0.5h-5.0zM409.4,240.5h4.5v0.5h-4.5zM419.9,240.5h2.0v0.5h-2.0zM425.4,240.5h3.5v0.5h-3.5zM404.4,241.0h4.5v0.5h-4.5zM409.4,241.0h5.5v0.5h-5.5zM415.4,241.0h1.0v0.5h-1.0zM419.9,241.0h2.5v0.5h-2.5zM425.4,241.0h3.5v0.5h-3.5zM404.9,241.5h4.0v0.5h-4.0zM409.4,241.5h8.5v0.5h-8.5zM419.4,241.5h3.0v0.5h-3.0zM425.9,241.5h3.0v0.5h-3.0zM404.9,242.0h3.5v0.5h-3.5zM409.9,242.0h4.5v0.5h-4.5zM414.9,242.0h8.0v0.5h-8.0zM425.9,242.0h3.0v0.5h-3.0zM399.9,242.5h1.0v0.5h-1.0zM404.9,242.5h3.0v0.5h-3.0zM410.4,242.5h3.0v0.5h-3.0zM415.9,242.5h7.0v0.5h-7.0zM426.4,242.5h2.5v0.5h-2.5z" fill="#b9b9b3"/><rect x="428.6" y="203.5" width="5.9" height="39.3" fill="#7fd0f2"/><ellipse cx="430.9" cy="205.0" rx="1.5" ry="1.5" fill="none" stroke="#2a60c0" stroke-width="0.9"/><ellipse cx="431.2" cy="208.3" rx="1.5" ry="1.5" fill="none" stroke="#2a60c0" stroke-width="0.9"/><ellipse cx="431.8" cy="211.6" rx="1.5" ry="1.5" fill="none" stroke="#2a60c0" stroke-width="0.9"/><ellipse cx="431.2" cy="214.9" rx="1.5" ry="1.5" fill="none" stroke="#2a60c0" stroke-width="0.9"/><ellipse cx="431.5" cy="218.2" rx="1.5" ry="1.5" fill="none" stroke="#2a60c0" stroke-width="0.9"/><ellipse cx="431.3" cy="221.5" rx="1.5" ry="1.5" fill="none" stroke="#2a60c0" stroke-width="0.9"/><ellipse cx="431.3" cy="224.8" rx="1.5" ry="1.5" fill="none" stroke="#2a60c0" stroke-width="0.9"/><ellipse cx="431.8" cy="228.1" rx="1.5" ry="1.5" fill="none" stroke="#2a60c0" stroke-width="0.9"/><ellipse cx="431.0" cy="231.4" rx="1.5" ry="1.5" fill="none" stroke="#2a60c0" stroke-width="0.9"/><ellipse cx="430.9" cy="234.7" rx="1.5" ry="1.5" fill="none" stroke="#2a60c0" stroke-width="0.9"/><ellipse cx="431.1" cy="238.0" rx="1.5" ry="1.5" fill="none" stroke="#2a60c0" stroke-width="0.9"/><ellipse cx="431.2" cy="241.3" rx="1.5" ry="1.5" fill="none" stroke="#2a60c0" stroke-width="0.9"/></g>
<path d="M435,220.8 L429.4,223.2 L435,225.6 Z" stroke="none" stroke-width="0" fill="#fff" />
<rect x="390.50" y="197.50" width="52.90" height="6.00" fill="#8a8a8a" />
<rect x="390.50" y="242.80" width="52.90" height="6.40" fill="#8a8a8a" />
<line x1="417.30" y1="192.60" x2="417.30" y2="203.50" stroke="#111" stroke-width="1.4" />
<line x1="417.30" y1="242.80" x2="417.30" y2="254.80" stroke="#111" stroke-width="1.4" />
<path d="M417.3,187.6 L413.9,194.6 L417.3,193.2 L420.7,194.6 Z" stroke="none" stroke-width="0" fill="#111" />
<path d="M417.3,259.8 L413.9,252.8 L417.3,254.20000000000002 L420.7,252.8 Z" stroke="none" stroke-width="0" fill="#111" />
<circle cx="430.4" cy="223.2" r="1.1" fill="#111"/>
<g clip-path="url(#cs32)"><rect x="399.9" y="287.0" width="34.6" height="39.5" fill="#22308c"/><ellipse cx="416.6" cy="301.8" rx="2.0" ry="1.4" transform="rotate(58 416.6 301.8)" fill="#b9b9b3" stroke="#e8e6da" stroke-width="0.45" stroke-dasharray="0.6,0.5"/><ellipse cx="428.7" cy="313.8" rx="2.9" ry="2.3" transform="rotate(149 428.7 313.8)" fill="#b9b9b3" stroke="#e8e6da" stroke-width="0.45" stroke-dasharray="0.6,0.5"/><ellipse cx="415.7" cy="310.9" rx="2.1" ry="1.7" transform="rotate(164 415.7 310.9)" fill="#b9b9b3" stroke="#e8e6da" stroke-width="0.45" stroke-dasharray="0.6,0.5"/><ellipse cx="411.7" cy="292.6" rx="2.2" ry="2.0" transform="rotate(7 411.7 292.6)" fill="#b9b9b3" stroke="#e8e6da" stroke-width="0.45" stroke-dasharray="0.6,0.5"/><ellipse cx="426.7" cy="286.7" rx="2.6" ry="1.8" transform="rotate(83 426.7 286.7)" fill="#b9b9b3" stroke="#e8e6da" stroke-width="0.45" stroke-dasharray="0.6,0.5"/><ellipse cx="404.1" cy="289.0" rx="2.8" ry="2.3" transform="rotate(27 404.1 289.0)" fill="#b9b9b3" stroke="#e8e6da" stroke-width="0.45" stroke-dasharray="0.6,0.5"/><ellipse cx="417.2" cy="288.3" rx="2.2" ry="1.6" transform="rotate(166 417.2 288.3)" fill="#b9b9b3" stroke="#e8e6da" stroke-width="0.45" stroke-dasharray="0.6,0.5"/><ellipse cx="429.1" cy="303.9" rx="2.5" ry="1.7" transform="rotate(54 429.1 303.9)" fill="#b9b9b3" stroke="#e8e6da" stroke-width="0.45" stroke-dasharray="0.6,0.5"/><ellipse cx="421.0" cy="321.7" rx="3.0" ry="1.9" transform="rotate(21 421.0 321.7)" fill="#b9b9b3" stroke="#e8e6da" stroke-width="0.45" stroke-dasharray="0.6,0.5"/><ellipse cx="418.1" cy="296.8" rx="2.3" ry="1.4" transform="rotate(93 418.1 296.8)" fill="#b9b9b3" stroke="#e8e6da" stroke-width="0.45" stroke-dasharray="0.6,0.5"/><ellipse cx="407.9" cy="319.4" rx="2.7" ry="2.2" transform="rotate(51 407.9 319.4)" fill="#b9b9b3" stroke="#e8e6da" stroke-width="0.45" stroke-dasharray="0.6,0.5"/><ellipse cx="399.2" cy="318.8" rx="2.6" ry="2.4" transform="rotate(4 399.2 318.8)" fill="#b9b9b3" stroke="#e8e6da" stroke-width="0.45" stroke-dasharray="0.6,0.5"/><ellipse cx="406.3" cy="308.4" rx="2.7" ry="2.3" transform="rotate(116 406.3 308.4)" fill="#b9b9b3" stroke="#e8e6da" stroke-width="0.45" stroke-dasharray="0.6,0.5"/><ellipse cx="424.6" cy="293.1" rx="2.8" ry="2.3" transform="rotate(144 424.6 293.1)" fill="#b9b9b3" stroke="#e8e6da" stroke-width="0.45" stroke-dasharray="0.6,0.5"/><ellipse cx="417.3" cy="315.1" rx="2.1" ry="1.6" transform="rotate(46 417.3 315.1)" fill="#b9b9b3" stroke="#e8e6da" stroke-width="0.45" stroke-dasharray="0.6,0.5"/><ellipse cx="400.7" cy="295.6" rx="1.9" ry="1.4" transform="rotate(149 400.7 295.6)" fill="#b9b9b3" stroke="#e8e6da" stroke-width="0.45" stroke-dasharray="0.6,0.5"/><ellipse cx="411.5" cy="303.5" rx="1.7" ry="1.6" transform="rotate(176 411.5 303.5)" fill="#b9b9b3" stroke="#e8e6da" stroke-width="0.45" stroke-dasharray="0.6,0.5"/><ellipse cx="417.4" cy="326.7" rx="2.4" ry="2.3" transform="rotate(166 417.4 326.7)" fill="#b9b9b3" stroke="#e8e6da" stroke-width="0.45" stroke-dasharray="0.6,0.5"/><ellipse cx="400.8" cy="300.3" rx="2.1" ry="1.6" transform="rotate(178 400.8 300.3)" fill="#b9b9b3" stroke="#e8e6da" stroke-width="0.45" stroke-dasharray="0.6,0.5"/><ellipse cx="429.0" cy="299.0" rx="2.6" ry="1.7" transform="rotate(24 429.0 299.0)" fill="#b9b9b3" stroke="#e8e6da" stroke-width="0.45" stroke-dasharray="0.6,0.5"/><ellipse cx="425.4" cy="310.0" rx="1.7" ry="1.5" transform="rotate(84 425.4 310.0)" fill="#b9b9b3" stroke="#e8e6da" stroke-width="0.45" stroke-dasharray="0.6,0.5"/><ellipse cx="421.0" cy="306.6" rx="1.7" ry="1.7" transform="rotate(159 421.0 306.6)" fill="#b9b9b3" stroke="#e8e6da" stroke-width="0.45" stroke-dasharray="0.6,0.5"/><ellipse cx="404.9" cy="297.7" rx="1.7" ry="1.4" transform="rotate(26 404.9 297.7)" fill="#b9b9b3" stroke="#e8e6da" stroke-width="0.45" stroke-dasharray="0.6,0.5"/><ellipse cx="405.1" cy="323.8" rx="2.1" ry="1.5" transform="rotate(102 405.1 323.8)" fill="#b9b9b3" stroke="#e8e6da" stroke-width="0.45" stroke-dasharray="0.6,0.5"/><ellipse cx="408.9" cy="312.7" rx="1.5" ry="1.5" transform="rotate(7 408.9 312.7)" fill="#b9b9b3" stroke="#e8e6da" stroke-width="0.45" stroke-dasharray="0.6,0.5"/><ellipse cx="422.2" cy="316.0" rx="2.1" ry="1.5" transform="rotate(47 422.2 316.0)" fill="#b9b9b3" stroke="#e8e6da" stroke-width="0.45" stroke-dasharray="0.6,0.5"/><ellipse cx="407.1" cy="301.3" rx="1.7" ry="1.6" transform="rotate(52 407.1 301.3)" fill="#b9b9b3" stroke="#e8e6da" stroke-width="0.45" stroke-dasharray="0.6,0.5"/><ellipse cx="413.4" cy="322.6" rx="1.9" ry="1.2" transform="rotate(137 413.4 322.6)" fill="#b9b9b3" stroke="#e8e6da" stroke-width="0.45" stroke-dasharray="0.6,0.5"/><ellipse cx="429.4" cy="325.9" rx="2.4" ry="1.7" transform="rotate(31 429.4 325.9)" fill="#b9b9b3" stroke="#e8e6da" stroke-width="0.45" stroke-dasharray="0.6,0.5"/><ellipse cx="424.1" cy="302.8" rx="2.6" ry="1.7" transform="rotate(179 424.1 302.8)" fill="#b9b9b3" stroke="#e8e6da" stroke-width="0.45" stroke-dasharray="0.6,0.5"/><ellipse cx="410.2" cy="286.8" rx="1.9" ry="1.3" transform="rotate(175 410.2 286.8)" fill="#b9b9b3" stroke="#e8e6da" stroke-width="0.45" stroke-dasharray="0.6,0.5"/><ellipse cx="426.9" cy="319.3" rx="1.9" ry="1.2" transform="rotate(91 426.9 319.3)" fill="#b9b9b3" stroke="#e8e6da" stroke-width="0.45" stroke-dasharray="0.6,0.5"/><ellipse cx="412.6" cy="317.1" rx="2.0" ry="1.8" transform="rotate(166 412.6 317.1)" fill="#b9b9b3" stroke="#e8e6da" stroke-width="0.45" stroke-dasharray="0.6,0.5"/><ellipse cx="399.7" cy="311.6" rx="2.1" ry="1.5" transform="rotate(143 399.7 311.6)" fill="#b9b9b3" stroke="#e8e6da" stroke-width="0.45" stroke-dasharray="0.6,0.5"/><ellipse cx="400.2" cy="326.5" rx="2.2" ry="1.5" transform="rotate(118 400.2 326.5)" fill="#b9b9b3" stroke="#e8e6da" stroke-width="0.45" stroke-dasharray="0.6,0.5"/><ellipse cx="411.8" cy="298.5" rx="2.5" ry="2.2" transform="rotate(169 411.8 298.5)" fill="#b9b9b3" stroke="#e8e6da" stroke-width="0.45" stroke-dasharray="0.6,0.5"/><ellipse cx="401.6" cy="306.6" rx="1.8" ry="1.4" transform="rotate(119 401.6 306.6)" fill="#b9b9b3" stroke="#e8e6da" stroke-width="0.45" stroke-dasharray="0.6,0.5"/><ellipse cx="408.9" cy="327.2" rx="2.9" ry="1.9" transform="rotate(139 408.9 327.2)" fill="#b9b9b3" stroke="#e8e6da" stroke-width="0.45" stroke-dasharray="0.6,0.5"/><ellipse cx="422.6" cy="297.9" rx="2.0" ry="1.6" transform="rotate(91 422.6 297.9)" fill="#b9b9b3" stroke="#e8e6da" stroke-width="0.45" stroke-dasharray="0.6,0.5"/><ellipse cx="423.0" cy="326.9" rx="2.1" ry="1.6" transform="rotate(74 423.0 326.9)" fill="#b9b9b3" stroke="#e8e6da" stroke-width="0.45" stroke-dasharray="0.6,0.5"/><ellipse cx="415.5" cy="306.2" rx="1.8" ry="1.3" transform="rotate(110 415.5 306.2)" fill="#b9b9b3" stroke="#e8e6da" stroke-width="0.45" stroke-dasharray="0.6,0.5"/><ellipse cx="404.8" cy="315.0" rx="1.9" ry="1.5" transform="rotate(68 404.8 315.0)" fill="#b9b9b3" stroke="#e8e6da" stroke-width="0.45" stroke-dasharray="0.6,0.5"/><ellipse cx="421.8" cy="286.6" rx="1.7" ry="1.6" transform="rotate(122 421.8 286.6)" fill="#b9b9b3" stroke="#e8e6da" stroke-width="0.45" stroke-dasharray="0.6,0.5"/><ellipse cx="416.5" cy="292.7" rx="1.7" ry="1.5" transform="rotate(23 416.5 292.7)" fill="#b9b9b3" stroke="#e8e6da" stroke-width="0.45" stroke-dasharray="0.6,0.5"/><ellipse cx="411.7" cy="309.1" rx="1.7" ry="1.4" transform="rotate(127 411.7 309.1)" fill="#b9b9b3" stroke="#e8e6da" stroke-width="0.45" stroke-dasharray="0.6,0.5"/><ellipse cx="421.3" cy="311.6" rx="1.6" ry="1.4" transform="rotate(48 421.3 311.6)" fill="#b9b9b3" stroke="#e8e6da" stroke-width="0.45" stroke-dasharray="0.6,0.5"/><ellipse cx="407.2" cy="293.0" rx="1.9" ry="1.3" transform="rotate(174 407.2 293.0)" fill="#b9b9b3" stroke="#e8e6da" stroke-width="0.45" stroke-dasharray="0.6,0.5"/><rect x="428.6" y="287.0" width="5.9" height="39.5" fill="#7fd0f2"/><ellipse cx="431.5" cy="288.5" rx="1.5" ry="1.5" fill="none" stroke="#2a60c0" stroke-width="0.9"/><ellipse cx="431.5" cy="291.8" rx="1.5" ry="1.5" fill="none" stroke="#2a60c0" stroke-width="0.9"/><ellipse cx="430.8" cy="295.1" rx="1.5" ry="1.5" fill="none" stroke="#2a60c0" stroke-width="0.9"/><ellipse cx="431.5" cy="298.4" rx="1.5" ry="1.5" fill="none" stroke="#2a60c0" stroke-width="0.9"/><ellipse cx="431.1" cy="301.7" rx="1.5" ry="1.5" fill="none" stroke="#2a60c0" stroke-width="0.9"/><ellipse cx="431.2" cy="305.0" rx="1.5" ry="1.5" fill="none" stroke="#2a60c0" stroke-width="0.9"/><ellipse cx="431.9" cy="308.3" rx="1.5" ry="1.5" fill="none" stroke="#2a60c0" stroke-width="0.9"/><ellipse cx="430.8" cy="311.6" rx="1.5" ry="1.5" fill="none" stroke="#2a60c0" stroke-width="0.9"/><ellipse cx="430.9" cy="314.9" rx="1.5" ry="1.5" fill="none" stroke="#2a60c0" stroke-width="0.9"/><ellipse cx="430.8" cy="318.2" rx="1.5" ry="1.5" fill="none" stroke="#2a60c0" stroke-width="0.9"/><ellipse cx="431.7" cy="321.5" rx="1.5" ry="1.5" fill="none" stroke="#2a60c0" stroke-width="0.9"/><ellipse cx="431.5" cy="324.8" rx="1.5" ry="1.5" fill="none" stroke="#2a60c0" stroke-width="0.9"/></g>
<path d="M435,304.4 L429.4,306.8 L435,309.1 Z" stroke="none" stroke-width="0" fill="#fff" />
<rect x="390.50" y="280.90" width="52.90" height="6.10" fill="#8a8a8a" />
<rect x="390.50" y="326.50" width="52.90" height="6.30" fill="#8a8a8a" />
<line x1="417.30" y1="275.90" x2="417.30" y2="287.00" stroke="#111" stroke-width="1.4" />
<line x1="417.30" y1="326.50" x2="417.30" y2="339.00" stroke="#111" stroke-width="1.4" />
<path d="M417.3,270.9 L413.9,277.9 L417.3,276.5 L420.7,277.9 Z" stroke="none" stroke-width="0" fill="#111" />
<path d="M417.3,344.0 L413.9,337.0 L417.3,338.4 L420.7,337.0 Z" stroke="none" stroke-width="0" fill="#111" />
<circle cx="430.4" cy="306.8" r="1.1" fill="#111"/>
<g clip-path="url(#cf1)">
<rect x="451.00" y="198.00" width="42.00" height="42.00" fill="#22308c" />
<path d="M457.5,198.0h12.5v0.5h-12.5zM474.0,198.0h1.5v0.5h-1.5zM480.5,198.0h5.5v0.5h-5.5zM487.5,198.0h4.5v0.5h-4.5zM451.0,198.5h1.0v0.5h-1.0zM456.5,198.5h6.5v0.5h-6.5zM464.0,198.5h6.0v0.5h-6.0zM474.0,198.5h1.5v0.5h-1.5zM480.5,198.5h5.0v0.5h-5.0zM487.5,198.5h5.0v0.5h-5.0zM451.0,199.0h11.0v0.5h-11.0zM466.0,199.0h4.5v0.5h-4.5zM474.0,199.0h1.5v0.5h-1.5zM480.5,199.0h4.5v0.5h-4.5zM488.0,199.0h5.0v0.5h-5.0zM451.0,199.5h10.5v0.5h-10.5zM467.0,199.5h3.5v0.5h-3.5zM474.0,199.5h1.5v0.5h-1.5zM480.5,199.5h4.0v0.5h-4.0zM488.0,199.5h5.0v0.5h-5.0zM451.0,200.0h10.0v0.5h-10.0zM468.5,200.0h2.0v0.5h-2.0zM474.5,200.0h1.0v0.5h-1.0zM480.5,200.0h3.5v0.5h-3.5zM488.0,200.0h5.0v0.5h-5.0zM451.0,200.5h9.5v0.5h-9.5zM480.5,200.5h2.5v0.5h-2.5zM488.0,200.5h4.5v0.5h-4.5zM451.0,201.0h9.0v0.5h-9.0zM480.5,201.0h2.0v0.5h-2.0zM488.0,201.0h4.0v0.5h-4.0zM451.0,201.5h7.5v0.5h-7.5zM480.0,201.5h3.0v0.5h-3.0zM488.0,201.5h4.0v0.5h-4.0zM452.5,202.0h5.5v0.5h-5.5zM479.5,202.0h3.5v0.5h-3.5zM488.0,202.0h4.0v0.5h-4.0zM454.0,202.5h3.5v0.5h-3.5zM463.0,202.5h2.5v0.5h-2.5zM477.0,202.5h1.0v0.5h-1.0zM478.5,202.5h5.0v0.5h-5.0zM488.5,202.5h3.0v0.5h-3.0zM455.0,203.0h1.5v0.5h-1.5zM462.5,203.0h3.0v0.5h-3.0zM476.5,203.0h7.5v0.5h-7.5zM488.5,203.0h3.0v0.5h-3.0zM462.5,203.5h3.5v0.5h-3.5zM476.5,203.5h7.5v0.5h-7.5zM489.0,203.5h2.5v0.5h-2.5zM463.0,204.0h3.0v0.5h-3.0zM476.5,204.0h2.0v0.5h-2.0zM479.0,204.0h5.5v0.5h-5.5zM489.5,204.0h2.0v0.5h-2.0zM463.0,204.5h3.5v0.5h-3.5zM470.0,204.5h1.0v0.5h-1.0zM476.0,204.5h2.0v0.5h-2.0zM479.5,204.5h5.0v0.5h-5.0zM490.0,204.5h2.0v0.5h-2.0zM463.5,205.0h3.5v0.5h-3.5zM469.0,205.0h2.0v0.5h-2.0zM476.0,205.0h2.0v0.5h-2.0zM480.0,205.0h5.0v0.5h-5.0zM490.0,205.0h3.0v0.5h-3.0zM457.0,205.5h1.0v0.5h-1.0zM464.0,205.5h7.5v0.5h-7.5zM475.5,205.5h2.5v0.5h-2.5zM480.5,205.5h4.5v0.5h-4.5zM490.0,205.5h3.0v0.5h-3.0zM455.0,206.0h5.0v0.5h-5.0zM464.5,206.0h7.0v0.5h-7.0zM475.0,206.0h3.5v0.5h-3.5zM481.0,206.0h4.5v0.5h-4.5zM490.0,206.0h3.0v0.5h-3.0zM452.5,206.5h8.0v0.5h-8.0zM464.5,206.5h7.0v0.5h-7.0zM475.0,206.5h3.5v0.5h-3.5zM481.5,206.5h4.5v0.5h-4.5zM489.5,206.5h3.5v0.5h-3.5zM451.5,207.0h9.5v0.5h-9.5zM464.5,207.0h7.5v0.5h-7.5zM474.5,207.0h4.5v0.5h-4.5zM482.0,207.0h4.5v0.5h-4.5zM489.0,207.0h4.0v0.5h-4.0zM451.0,207.5h10.0v0.5h-10.0zM464.5,207.5h7.5v0.5h-7.5zM474.5,207.5h5.0v0.5h-5.0zM482.0,207.5h11.0v0.5h-11.0zM451.0,208.0h10.0v0.5h-10.0zM464.0,208.0h8.0v0.5h-8.0zM474.5,208.0h18.5v0.5h-18.5zM451.0,208.5h9.5v0.5h-9.5zM464.0,208.5h8.5v0.5h-8.5zM474.5,208.5h18.5v0.5h-18.5zM451.0,209.0h0.5v0.5h-0.5zM455.5,209.0h5.0v0.5h-5.0zM464.0,209.0h4.5v0.5h-4.5zM470.0,209.0h2.5v0.5h-2.5zM475.0,209.0h18.0v0.5h-18.0zM456.0,209.5h4.0v0.5h-4.0zM464.0,209.5h4.0v0.5h-4.0zM470.5,209.5h2.0v0.5h-2.0zM475.0,209.5h18.0v0.5h-18.0zM456.0,210.0h4.0v0.5h-4.0zM463.5,210.0h4.5v0.5h-4.5zM471.0,210.0h1.0v0.5h-1.0zM475.5,210.0h17.5v0.5h-17.5zM456.0,210.5h3.5v0.5h-3.5zM463.5,210.5h4.0v0.5h-4.0zM476.0,210.5h8.5v0.5h-8.5zM489.0,210.5h4.0v0.5h-4.0zM456.0,211.0h2.5v0.5h-2.5zM463.5,211.0h4.0v0.5h-4.0zM481.5,211.0h2.5v0.5h-2.5zM490.5,211.0h2.0v0.5h-2.0zM455.5,211.5h2.5v0.5h-2.5zM463.5,211.5h3.5v0.5h-3.5zM455.0,212.0h3.0v0.5h-3.0zM463.0,212.0h4.0v0.5h-4.0zM455.0,212.5h3.0v0.5h-3.0zM463.0,212.5h3.5v0.5h-3.5zM454.5,213.0h4.0v0.5h-4.0zM461.0,213.0h5.0v0.5h-5.0zM472.0,213.0h1.5v0.5h-1.5zM474.5,213.0h3.0v0.5h-3.0zM454.5,213.5h10.5v0.5h-10.5zM472.0,213.5h6.0v0.5h-6.0zM491.5,213.5h1.5v0.5h-1.5zM454.5,214.0h10.0v0.5h-10.0zM471.5,214.0h6.5v0.5h-6.5zM491.5,214.0h1.5v0.5h-1.5zM455.0,214.5h9.0v0.5h-9.0zM471.5,214.5h6.5v0.5h-6.5zM491.0,214.5h2.0v0.5h-2.0zM456.0,215.0h0.5v0.5h-0.5zM459.5,215.0h4.5v0.5h-4.5zM471.0,215.0h7.5v0.5h-7.5zM491.0,215.0h2.0v0.5h-2.0zM460.0,215.5h3.5v0.5h-3.5zM470.5,215.5h8.0v0.5h-8.0zM483.0,215.5h3.5v0.5h-3.5zM491.0,215.5h2.0v0.5h-2.0zM460.0,216.0h3.5v0.5h-3.5zM470.0,216.0h8.5v0.5h-8.5zM482.0,216.0h5.0v0.5h-5.0zM491.0,216.0h2.0v0.5h-2.0zM460.5,216.5h2.5v0.5h-2.5zM469.0,216.5h9.0v0.5h-9.0zM480.5,216.5h7.0v0.5h-7.0zM491.5,216.5h1.5v0.5h-1.5zM460.5,217.0h2.5v0.5h-2.5zM468.5,217.0h3.5v0.5h-3.5zM474.0,217.0h3.0v0.5h-3.0zM478.5,217.0h9.0v0.5h-9.0zM491.5,217.0h1.5v0.5h-1.5zM453.5,217.5h2.0v0.5h-2.0zM460.5,217.5h3.0v0.5h-3.0zM468.0,217.5h4.0v0.5h-4.0zM478.0,217.5h10.0v0.5h-10.0zM491.0,217.5h2.0v0.5h-2.0zM452.0,218.0h4.5v0.5h-4.5zM460.5,218.0h3.5v0.5h-3.5zM467.5,218.0h4.5v0.5h-4.5zM477.5,218.0h10.5v0.5h-10.5zM491.0,218.0h2.0v0.5h-2.0zM451.0,218.5h5.5v0.5h-5.5zM460.0,218.5h4.0v0.5h-4.0zM467.5,218.5h5.0v0.5h-5.0zM474.0,218.5h14.0v0.5h-14.0zM490.5,218.5h2.5v0.5h-2.5zM451.0,219.0h6.0v0.5h-6.0zM460.0,219.0h4.5v0.5h-4.5zM467.5,219.0h20.0v0.5h-20.0zM489.5,219.0h3.5v0.5h-3.5zM451.0,219.5h6.0v0.5h-6.0zM460.0,219.5h4.5v0.5h-4.5zM468.0,219.5h19.0v0.5h-19.0zM489.5,219.5h3.5v0.5h-3.5zM451.0,220.0h6.0v0.5h-6.0zM460.0,220.0h5.0v0.5h-5.0zM468.0,220.0h14.0v0.5h-14.0zM489.0,220.0h4.0v0.5h-4.0zM451.0,220.5h5.5v0.5h-5.5zM460.0,220.5h5.0v0.5h-5.0zM468.5,220.5h7.5v0.5h-7.5zM478.0,220.5h3.5v0.5h-3.5zM489.0,220.5h4.0v0.5h-4.0zM451.0,221.0h5.0v0.5h-5.0zM460.0,221.0h4.5v0.5h-4.5zM468.5,221.0h7.0v0.5h-7.0zM489.0,221.0h4.0v0.5h-4.0zM451.0,221.5h2.5v0.5h-2.5zM460.5,221.5h4.0v0.5h-4.0zM469.0,221.5h5.5v0.5h-5.5zM488.5,221.5h4.5v0.5h-4.5zM460.5,222.0h4.0v0.5h-4.0zM469.0,222.0h4.5v0.5h-4.5zM488.5,222.0h4.0v0.5h-4.0zM460.0,222.5h4.0v0.5h-4.0zM469.5,222.5h3.5v0.5h-3.5zM488.0,222.5h4.5v0.5h-4.5zM460.0,223.0h3.5v0.5h-3.5zM469.5,223.0h3.0v0.5h-3.0zM487.5,223.0h5.0v0.5h-5.0zM459.5,223.5h3.5v0.5h-3.5zM469.5,223.5h2.5v0.5h-2.5zM484.0,223.5h8.0v0.5h-8.0zM457.0,224.0h5.5v0.5h-5.5zM470.0,224.0h1.5v0.5h-1.5zM482.0,224.0h10.5v0.5h-10.5zM456.5,224.5h5.5v0.5h-5.5zM470.5,224.5h0.5v0.5h-0.5zM481.5,224.5h11.0v0.5h-11.0zM456.5,225.0h5.0v0.5h-5.0zM476.0,225.0h2.0v0.5h-2.0zM481.0,225.0h4.5v0.5h-4.5zM486.5,225.0h6.5v0.5h-6.5zM452.0,225.5h3.5v0.5h-3.5zM457.0,225.5h4.0v0.5h-4.0zM475.5,225.5h3.0v0.5h-3.0zM480.5,225.5h4.0v0.5h-4.0zM487.5,225.5h5.5v0.5h-5.5zM451.5,226.0h4.0v0.5h-4.0zM457.5,226.0h3.5v0.5h-3.5zM465.5,226.0h3.5v0.5h-3.5zM475.0,226.0h4.0v0.5h-4.0zM480.0,226.0h4.0v0.5h-4.0zM488.0,226.0h5.0v0.5h-5.0zM451.0,226.5h4.5v0.5h-4.5zM458.0,226.5h3.0v0.5h-3.0zM465.0,226.5h6.5v0.5h-6.5zM474.0,226.5h5.0v0.5h-5.0zM480.0,226.5h3.5v0.5h-3.5zM488.5,226.5h4.5v0.5h-4.5zM451.0,227.0h4.5v0.5h-4.5zM458.5,227.0h3.0v0.5h-3.0zM464.5,227.0h14.5v0.5h-14.5zM480.0,227.0h3.5v0.5h-3.5zM489.0,227.0h4.0v0.5h-4.0zM451.0,227.5h4.0v0.5h-4.0zM458.5,227.5h3.0v0.5h-3.0zM464.0,227.5h14.0v0.5h-14.0zM480.0,227.5h3.0v0.5h-3.0zM491.5,227.5h1.5v0.5h-1.5zM451.0,228.0h4.0v0.5h-4.0zM459.0,228.0h3.0v0.5h-3.0zM464.0,228.0h12.0v0.5h-12.0zM480.0,228.0h3.0v0.5h-3.0zM492.5,228.0h0.5v0.5h-0.5zM451.0,228.5h4.0v0.5h-4.0zM459.0,228.5h15.0v0.5h-15.0zM480.0,228.5h3.0v0.5h-3.0zM492.5,228.5h0.5v0.5h-0.5zM451.0,229.0h4.0v0.5h-4.0zM459.0,229.0h14.5v0.5h-14.5zM479.5,229.0h3.5v0.5h-3.5zM451.0,229.5h4.0v0.5h-4.0zM459.0,229.5h14.0v0.5h-14.0zM479.5,229.5h3.0v0.5h-3.0zM486.0,229.5h2.0v0.5h-2.0zM451.0,230.0h3.5v0.5h-3.5zM459.0,230.0h6.5v0.5h-6.5zM469.5,230.0h2.5v0.5h-2.5zM479.0,230.0h3.5v0.5h-3.5zM485.5,230.0h2.5v0.5h-2.5zM451.5,230.5h3.0v0.5h-3.0zM459.5,230.5h4.5v0.5h-4.5zM478.5,230.5h3.5v0.5h-3.5zM485.5,230.5h3.0v0.5h-3.0zM452.0,231.0h2.0v0.5h-2.0zM459.5,231.0h4.0v0.5h-4.0zM478.0,231.0h4.0v0.5h-4.0zM485.5,231.0h3.0v0.5h-3.0zM452.5,231.5h1.5v0.5h-1.5zM460.0,231.5h2.5v0.5h-2.5zM476.5,231.5h5.0v0.5h-5.0zM485.5,231.5h3.0v0.5h-3.0zM452.5,232.0h1.0v0.5h-1.0zM475.0,232.0h6.5v0.5h-6.5zM485.5,232.0h3.0v0.5h-3.0zM452.5,232.5h1.0v0.5h-1.0zM469.0,232.5h1.0v0.5h-1.0zM474.5,232.5h6.5v0.5h-6.5zM485.5,232.5h3.5v0.5h-3.5zM452.0,233.0h2.0v0.5h-2.0zM468.0,233.0h2.5v0.5h-2.5zM474.0,233.0h7.0v0.5h-7.0zM485.5,233.0h3.5v0.5h-3.5zM451.0,233.5h4.0v0.5h-4.0zM456.5,233.5h3.0v0.5h-3.0zM467.5,233.5h3.5v0.5h-3.5zM474.0,233.5h6.5v0.5h-6.5zM485.5,233.5h4.5v0.5h-4.5zM451.0,234.0h8.5v0.5h-8.5zM467.0,234.0h4.5v0.5h-4.5zM474.0,234.0h6.0v0.5h-6.0zM484.5,234.0h6.0v0.5h-6.0zM451.0,234.5h9.0v0.5h-9.0zM467.0,234.5h4.5v0.5h-4.5zM474.0,234.5h5.5v0.5h-5.5zM483.0,234.5h8.5v0.5h-8.5zM492.5,234.5h0.5v0.5h-0.5zM451.0,235.0h9.0v0.5h-9.0zM466.5,235.0h5.0v0.5h-5.0zM474.5,235.0h4.5v0.5h-4.5zM482.0,235.0h11.0v0.5h-11.0zM451.0,235.5h9.5v0.5h-9.5zM463.5,235.5h8.0v0.5h-8.0zM474.5,235.5h4.5v0.5h-4.5zM482.0,235.5h11.0v0.5h-11.0zM451.0,236.0h1.0v0.5h-1.0zM454.5,236.0h17.0v0.5h-17.0zM474.5,236.0h4.0v0.5h-4.0zM482.0,236.0h8.0v0.5h-8.0zM492.5,236.0h0.5v0.5h-0.5zM451.0,236.5h0.5v0.5h-0.5zM455.0,236.5h16.5v0.5h-16.5zM474.5,236.5h3.5v0.5h-3.5zM482.0,236.5h7.0v0.5h-7.0zM455.0,237.0h11.5v0.5h-11.5zM468.0,237.0h3.0v0.5h-3.0zM474.5,237.0h3.5v0.5h-3.5zM482.0,237.0h4.5v0.5h-4.5zM455.0,237.5h11.0v0.5h-11.0zM474.5,237.5h3.0v0.5h-3.0zM482.5,237.5h3.0v0.5h-3.0zM454.5,238.0h11.5v0.5h-11.5zM475.0,238.0h2.0v0.5h-2.0zM483.0,238.0h1.0v0.5h-1.0zM454.5,238.5h11.5v0.5h-11.5zM454.0,239.0h5.5v0.5h-5.5zM460.5,239.0h5.5v0.5h-5.5zM488.0,239.0h2.0v0.5h-2.0zM454.0,239.5h5.0v0.5h-5.0zM461.5,239.5h5.0v0.5h-5.0zM487.5,239.5h4.0v0.5h-4.0zM492.0,239.5h1.0v0.5h-1.0z" fill="#b9b9b3"/>
<path d="M492.5,212.2 L479.2,216.2 L492.5,219.0 Z" fill="#fff"/>
</g>
<circle cx="471" cy="218.7" r="21" fill="none" stroke="#666" stroke-width="0.8" stroke-dasharray="2,1.5"/>
<g clip-path="url(#cf2)">
<rect x="451.00" y="280.00" width="42.00" height="42.00" fill="#22308c" />
<ellipse cx="460.4" cy="288.5" rx="4.9" ry="3.5" transform="rotate(-30 460.4 288.5)" fill="#b9b9b3" stroke="#e6e2c6" stroke-width="0.6" stroke-dasharray="0.7,0.5"/><ellipse cx="469.1" cy="293.6" rx="2.8" ry="5.1" transform="rotate(8 469.1 293.6)" fill="#b9b9b3" stroke="#e6e2c6" stroke-width="0.6" stroke-dasharray="0.7,0.5"/><ellipse cx="480.4" cy="286.4" rx="4.5" ry="2.6" transform="rotate(30 480.4 286.4)" fill="#b9b9b3" stroke="#e6e2c6" stroke-width="0.6" stroke-dasharray="0.7,0.5"/><ellipse cx="480.0" cy="297.6" rx="5.1" ry="4.5" transform="rotate(0 480.0 297.6)" fill="#b9b9b3" stroke="#e6e2c6" stroke-width="0.6" stroke-dasharray="0.7,0.5"/><ellipse cx="458.8" cy="299.2" rx="5.3" ry="3.4" transform="rotate(5 458.8 299.2)" fill="#b9b9b3" stroke="#e6e2c6" stroke-width="0.6" stroke-dasharray="0.7,0.5"/><ellipse cx="470.4" cy="307.9" rx="5.8" ry="3.4" transform="rotate(-8 470.4 307.9)" fill="#b9b9b3" stroke="#e6e2c6" stroke-width="0.6" stroke-dasharray="0.7,0.5"/><ellipse cx="457.8" cy="311.5" rx="2.9" ry="5.5" transform="rotate(20 457.8 311.5)" fill="#b9b9b3" stroke="#e6e2c6" stroke-width="0.6" stroke-dasharray="0.7,0.5"/><ellipse cx="485.1" cy="311.2" rx="3.5" ry="5.0" transform="rotate(30 485.1 311.2)" fill="#b9b9b3" stroke="#e6e2c6" stroke-width="0.6" stroke-dasharray="0.7,0.5"/><ellipse cx="473.6" cy="317.6" rx="5.5" ry="3.0" transform="rotate(-10 473.6 317.6)" fill="#b9b9b3" stroke="#e6e2c6" stroke-width="0.6" stroke-dasharray="0.7,0.5"/>
<path d="M491,300.0 L474.2,302.3 L491,306.0 Z" fill="#fff"/>
</g>
<circle cx="471.4" cy="301" r="21" fill="none" stroke="#666" stroke-width="0.8" stroke-dasharray="2,1.5"/>
<line x1="431.00" y1="224.00" x2="450.20" y2="218.70" stroke="#444" stroke-width="0.8" stroke-dasharray="2,1.5"/>
<line x1="431.00" y1="306.30" x2="450.50" y2="302.50" stroke="#444" stroke-width="0.8" stroke-dasharray="2,1.5"/>
<line x1="472.20" y1="214.60" x2="480.40" y2="222.80" stroke="#d0102a" stroke-width="1.4" />
<line x1="480.40" y1="214.60" x2="472.20" y2="222.80" stroke="#d0102a" stroke-width="1.4" />
<path d="M474.2,302.3 L469,301.8 L466,300.6 L463.5,302.3 L460,300.8 L457,302 L451,301.4" stroke="#d0102a" stroke-width="1.2" fill="none" />
<path d="M447.3,301.4 L453.5,298.6 L452.2,301.4 L453.5,304.2 Z" stroke="none" stroke-width="0" fill="#d0102a" />
<line x1="486.20" y1="193.40" x2="486.20" y2="239.70" stroke="#d02840" stroke-width="0.9" />
<path d="M486.2,189.4 L483.59999999999997,195.4 L488.8,195.4 Z" stroke="none" stroke-width="0" fill="#c8102e" />
<path d="M486.2,243.7 L483.59999999999997,237.7 L488.8,237.7 Z" stroke="none" stroke-width="0" fill="#c8102e" />
<line x1="486.40" y1="278.40" x2="486.40" y2="327.30" stroke="#d02840" stroke-width="0.9" />
<path d="M486.4,274.4 L483.79999999999995,280.4 L489.0,280.4 Z" stroke="none" stroke-width="0" fill="#c8102e" />
<path d="M486.4,331.3 L483.79999999999995,325.3 L489.0,325.3 Z" stroke="none" stroke-width="0" fill="#c8102e" />
<text x="442.3" y="259.8" font-size="8.8" fill="#283a92" text-anchor="start"  stroke="#283a92" stroke-width="0.22">Crack blunting</text>
<text x="427.1" y="341.0" font-size="8.8" fill="#c23a5c" text-anchor="start"  stroke="#c23a5c" stroke-width="0.22">Crack propagation</text>
<line x1="548.70" y1="319.20" x2="551.20" y2="319.20" stroke="#444" stroke-width="0.8" />
<text x="547.2" y="322.2" font-size="8.6" fill="#222" text-anchor="end"  stroke="#222" stroke-width="0.22">0</text>
<line x1="548.70" y1="288.68" x2="551.20" y2="288.68" stroke="#444" stroke-width="0.8" />
<text x="547.2" y="291.7" font-size="8.6" fill="#222" text-anchor="end"  stroke="#222" stroke-width="0.22">2</text>
<line x1="548.70" y1="258.16" x2="551.20" y2="258.16" stroke="#444" stroke-width="0.8" />
<text x="547.2" y="261.2" font-size="8.6" fill="#222" text-anchor="end"  stroke="#222" stroke-width="0.22">4</text>
<line x1="548.70" y1="227.64" x2="551.20" y2="227.64" stroke="#444" stroke-width="0.8" />
<text x="547.2" y="230.6" font-size="8.6" fill="#222" text-anchor="end"  stroke="#222" stroke-width="0.22">6</text>
<line x1="548.70" y1="197.12" x2="551.20" y2="197.12" stroke="#444" stroke-width="0.8" />
<text x="547.2" y="200.1" font-size="8.6" fill="#222" text-anchor="end"  stroke="#222" stroke-width="0.22">8</text>
<line x1="549.70" y1="303.94" x2="551.20" y2="303.94" stroke="#444" stroke-width="0.7" />
<line x1="549.70" y1="273.42" x2="551.20" y2="273.42" stroke="#444" stroke-width="0.7" />
<line x1="549.70" y1="242.90" x2="551.20" y2="242.90" stroke="#444" stroke-width="0.7" />
<line x1="549.70" y1="212.38" x2="551.20" y2="212.38" stroke="#444" stroke-width="0.7" />
<rect x="564.00" y="219.25" width="11.10" height="99.95" fill="url(#hbi)" stroke="#2a58a8" stroke-width="0.6"/>
<rect x="600.20" y="312.03" width="11.20" height="7.17" fill="url(#hpi)" stroke="#c8405e" stroke-width="0.6"/>
<line x1="569.90" y1="212.38" x2="569.90" y2="226.11" stroke="#2a58a8" stroke-width="0.8" />
<line x1="568.20" y1="212.38" x2="571.60" y2="212.38" stroke="#2a58a8" stroke-width="0.8" />
<line x1="606.00" y1="309.74" x2="606.00" y2="313.10" stroke="#c8405e" stroke-width="0.8" />
<line x1="604.40" y1="309.74" x2="607.60" y2="309.74" stroke="#c8405e" stroke-width="0.8" />
<rect x="551.20" y="197.10" width="73.10" height="122.10" fill="none" stroke="#444" stroke-width="0.9"/>
<line x1="569.90" y1="319.20" x2="569.90" y2="321.40" stroke="#444" stroke-width="0.8" />
<line x1="606.00" y1="319.20" x2="606.00" y2="321.40" stroke="#444" stroke-width="0.8" />
<text transform="translate(536,258.8) rotate(-90)" font-size="10.45" fill="#222" text-anchor="middle" stroke="#222" stroke-width="0.22">Fracture energy (kJ/m<tspan font-size="7" dy="-3.5">3</tspan><tspan dy="3.5">)</tspan></text>
<text transform="translate(551.5,340.5) rotate(-15)" fill="#283a92" font-size="8.6" stroke="#283a92" stroke-width="0.22"><tspan font-size="4.6" dy="-3">Bi</tspan><tspan dy="3">Gel-CB</tspan></text>
<text transform="translate(589.2,341.3) rotate(-15)" fill="#c23a5c" font-size="8.6" stroke="#c23a5c" stroke-width="0.22"><tspan font-size="4.6" dy="-3">Iso</tspan><tspan dy="3">Gel-CB</tspan></text>
<rect x="25.30" y="364.80" width="85.70" height="36.00" fill="url(#phbg)" />
<path d="M25.3,400.0 L26.7,399.8 L28.2,399.6 L29.6,399.7 L31.0,399.7 L32.4,399.7 L33.9,400.0 L35.3,399.6 L36.7,399.7 L38.2,400.0 L39.6,400.0 L41.0,399.9 L42.4,399.6 L43.9,399.7 L45.3,400.0 L46.7,400.1 L48.2,399.9 L49.6,399.6 L51.0,400.0 L52.4,399.6 L53.9,399.7 L55.3,399.7 L56.7,399.7 L58.2,399.6 L59.6,399.6 L61.0,400.0 L62.4,399.5 L63.9,399.7 L65.3,399.5 L66.7,399.8 L68.2,399.6 L69.6,399.5 L71.0,400.0 L72.4,399.6 L73.9,400.0 L75.3,399.7 L76.7,400.0 L78.1,399.8 L79.6,399.9 L81.0,400.1 L82.4,399.6 L83.9,399.9 L85.3,399.5 L86.7,399.8 L88.1,399.6 L89.6,400.0 L91.0,399.6 L92.4,399.8 L93.9,399.5 L95.3,399.8 L96.7,400.0 L98.1,400.0 L99.6,399.8 L101.0,400.1 L102.4,399.8 L103.9,399.7 L105.3,399.6 L106.7,400.0 L108.1,399.6 L109.6,399.9 L111.0,400.0 L111.0,429.4 L25.3,429.4 Z" fill="url(#phbot)"/>
<rect x="64.7" y="364.8" width="5.8" height="29.6" fill="#0c0c0c"/>
<circle cx="67.6" cy="394.4" r="7.3" fill="#0c0c0c"/>
<circle cx="67.6" cy="394.4" r="1.6" fill="#fff"/>
<text x="77.1" y="376.4" font-size="9" fill="#283a92" text-anchor="start"  stroke="#283a92" stroke-width="0.22">0 ms</text>
<rect x="114.50" y="364.80" width="85.70" height="36.00" fill="url(#phbg)" />
<path d="M114.5,399.7 L115.9,400.0 L117.4,399.6 L118.8,399.5 L120.2,399.9 L121.6,399.8 L123.1,400.1 L124.5,400.1 L125.9,400.0 L127.4,400.0 L128.8,399.9 L130.2,400.0 L131.6,399.7 L133.1,400.1 L134.5,400.0 L135.9,400.0 L137.4,399.5 L138.8,399.6 L140.2,399.7 L141.6,400.0 L143.1,399.8 L144.5,399.7 L145.9,399.4 L147.4,399.2 L148.8,398.9 L150.2,398.8 L151.6,398.8 L153.1,398.6 L154.5,398.5 L155.9,398.4 L157.3,397.9 L158.8,398.2 L160.2,398.3 L161.6,398.4 L163.1,399.1 L164.5,399.3 L165.9,399.3 L167.3,399.3 L168.8,399.6 L170.2,399.6 L171.6,399.7 L173.1,399.8 L174.5,400.1 L175.9,399.8 L177.3,399.5 L178.8,399.7 L180.2,399.8 L181.6,399.7 L183.1,399.6 L184.5,400.1 L185.9,399.5 L187.3,399.9 L188.8,399.8 L190.2,400.0 L191.6,399.9 L193.1,399.5 L194.5,399.5 L195.9,399.6 L197.3,399.9 L198.8,399.6 L200.2,399.6 L200.2,429.4 L114.5,429.4 Z" fill="url(#phbot)"/>
<path d="M154.3,364.8 L160.1,364.8 L160.1,386.4 A2.9,2.9 0 0 1 154.3,386.4 Z" fill="#0c0c0c"/>
<circle cx="157.2" cy="387.3" r="0.7" fill="#ddd"/>
<text x="166.3" y="376.4" font-size="9" fill="#283a92" text-anchor="start"  stroke="#283a92" stroke-width="0.22">50 ms</text>
<rect x="203.70" y="364.80" width="86.00" height="36.00" fill="url(#phbg)" />
<path d="M203.7,399.7 L205.1,399.5 L206.6,400.1 L208.0,399.9 L209.4,399.9 L210.9,400.0 L212.3,400.1 L213.7,399.6 L215.2,400.0 L216.6,400.0 L218.0,399.8 L219.5,399.7 L220.9,400.0 L222.3,399.6 L223.8,400.1 L225.2,399.7 L226.6,400.0 L228.1,399.9 L229.5,399.8 L230.9,399.8 L232.4,399.3 L233.8,399.2 L235.2,399.4 L236.7,399.3 L238.1,398.9 L239.5,399.2 L241.0,399.1 L242.4,399.0 L243.8,398.6 L245.3,399.0 L246.7,398.7 L248.1,399.0 L249.6,399.0 L251.0,399.0 L252.4,399.1 L253.9,399.2 L255.3,399.3 L256.7,399.4 L258.2,399.8 L259.6,399.3 L261.0,399.9 L262.5,400.0 L263.9,399.9 L265.3,400.0 L266.8,399.8 L268.2,399.9 L269.6,399.8 L271.1,399.7 L272.5,399.6 L273.9,400.0 L275.4,399.6 L276.8,400.0 L278.2,400.1 L279.7,399.8 L281.1,399.6 L282.5,399.9 L284.0,399.9 L285.4,399.7 L286.8,399.9 L288.3,400.0 L289.7,399.9 L289.7,429.4 L203.7,429.4 Z" fill="url(#phbot)"/>
<path d="M243.1,364.8 L248.9,364.8 L248.9,386.5 A2.9,2.9 0 0 1 243.1,386.5 Z" fill="#0c0c0c"/>
<circle cx="246.0" cy="387.4" r="0.7" fill="#ddd"/>
<text x="253.2" y="376.4" font-size="9" fill="#283a92" text-anchor="start"  stroke="#283a92" stroke-width="0.22">100 ms</text>
<rect x="293.00" y="364.80" width="86.00" height="36.00" fill="url(#phbg)" />
<path d="M293.0,399.5 L294.4,400.1 L295.9,399.7 L297.3,400.0 L298.7,399.7 L300.2,399.9 L301.6,399.7 L303.0,399.9 L304.5,400.0 L305.9,400.0 L307.3,399.9 L308.8,399.9 L310.2,399.8 L311.6,399.9 L313.1,400.0 L314.5,399.5 L315.9,399.6 L317.4,399.6 L318.8,399.6 L320.2,399.5 L321.7,399.5 L323.1,399.3 L324.5,399.6 L326.0,399.2 L327.4,399.3 L328.8,399.1 L330.3,398.9 L331.7,399.0 L333.1,399.2 L334.6,398.8 L336.0,399.3 L337.4,398.7 L338.9,399.2 L340.3,399.3 L341.7,399.4 L343.2,399.3 L344.6,399.4 L346.0,399.3 L347.5,399.7 L348.9,399.7 L350.3,399.4 L351.8,399.8 L353.2,399.8 L354.6,400.0 L356.1,399.6 L357.5,399.7 L358.9,400.0 L360.4,400.1 L361.8,399.6 L363.2,400.0 L364.7,399.6 L366.1,399.7 L367.5,400.0 L369.0,399.9 L370.4,399.6 L371.8,399.8 L373.3,399.7 L374.7,399.5 L376.1,399.7 L377.6,399.8 L379.0,399.7 L379.0,429.4 L293.0,429.4 Z" fill="url(#phbot)"/>
<path d="M332.4,364.8 L338.2,364.8 L338.2,386.5 A2.9,2.9 0 0 1 332.4,386.5 Z" fill="#0c0c0c"/>
<circle cx="335.3" cy="387.4" r="0.7" fill="#ddd"/>
<text x="344.8" y="376.4" font-size="9" fill="#283a92" text-anchor="start"  stroke="#283a92" stroke-width="0.22">200 ms</text>
<rect x="382.40" y="364.80" width="85.70" height="36.00" fill="url(#phbg)" />
<path d="M382.4,399.7 L383.8,399.5 L385.3,399.8 L386.7,400.0 L388.1,400.0 L389.5,399.6 L391.0,399.6 L392.4,399.8 L393.8,399.7 L395.3,399.8 L396.7,399.7 L398.1,399.9 L399.5,400.0 L401.0,399.9 L402.4,399.8 L403.8,399.9 L405.3,399.8 L406.7,399.5 L408.1,399.4 L409.5,399.9 L411.0,399.4 L412.4,399.3 L413.8,399.5 L415.3,399.7 L416.7,399.1 L418.1,399.5 L419.5,399.0 L421.0,399.0 L422.4,399.1 L423.8,399.3 L425.2,399.5 L426.7,398.9 L428.1,399.2 L429.5,399.2 L431.0,399.2 L432.4,399.1 L433.8,399.6 L435.2,399.8 L436.7,399.3 L438.1,399.5 L439.5,399.9 L441.0,399.4 L442.4,400.0 L443.8,399.8 L445.2,399.7 L446.7,399.7 L448.1,399.5 L449.5,399.7 L451.0,399.7 L452.4,399.8 L453.8,399.6 L455.2,399.5 L456.7,400.0 L458.1,399.7 L459.5,399.7 L461.0,399.8 L462.4,400.1 L463.8,400.0 L465.2,399.8 L466.7,399.6 L468.1,399.5 L468.1,429.4 L382.4,429.4 Z" fill="url(#phbot)"/>
<path d="M421.9,364.8 L427.7,364.8 L427.7,387.3 A2.9,2.9 0 0 1 421.9,387.3 Z" fill="#0c0c0c"/>
<circle cx="424.8" cy="388.2" r="0.7" fill="#ddd"/>
<text x="436.7" y="376.4" font-size="9" fill="#283a92" text-anchor="start"  stroke="#283a92" stroke-width="0.22">500 ms</text>
<rect x="25.30" y="450.30" width="85.70" height="43.90" fill="url(#phbg)" />
<path d="M25.3,493.4 L26.7,493.2 L28.2,493.2 L29.6,493.0 L31.0,493.2 L32.4,493.4 L33.9,493.4 L35.3,493.5 L36.7,493.1 L38.2,493.1 L39.6,493.3 L41.0,493.0 L42.4,493.1 L43.9,493.2 L45.3,493.5 L46.7,493.5 L48.2,493.1 L49.6,493.4 L51.0,493.0 L52.4,493.3 L53.9,493.1 L55.3,493.5 L56.7,493.1 L58.2,493.0 L59.6,493.1 L61.0,493.4 L62.4,493.0 L63.9,493.3 L65.3,492.9 L66.7,492.9 L68.2,493.1 L69.6,493.3 L71.0,493.0 L72.4,493.1 L73.9,493.4 L75.3,493.5 L76.7,493.0 L78.1,493.4 L79.6,493.2 L81.0,492.9 L82.4,493.0 L83.9,493.3 L85.3,493.3 L86.7,493.0 L88.1,493.3 L89.6,493.4 L91.0,493.2 L92.4,493.2 L93.9,493.1 L95.3,493.0 L96.7,493.3 L98.1,493.0 L99.6,493.3 L101.0,493.3 L102.4,493.0 L103.9,493.2 L105.3,493.1 L106.7,493.1 L108.1,493.4 L109.6,493.0 L111.0,493.5 L111.0,514.6 L25.3,514.6 Z" fill="#0b0b0b"/>
<rect x="63.2" y="450.3" width="5.8" height="34.1" fill="#0c0c0c"/>
<circle cx="66.1" cy="484.4" r="7.3" fill="#0c0c0c"/>
<circle cx="66.1" cy="484.4" r="1.6" fill="#fff"/>
<text x="77.0" y="461.9" font-size="9" fill="#c4405c" text-anchor="start"  stroke="#c4405c" stroke-width="0.22">0 ms</text>
<rect x="114.50" y="450.30" width="85.70" height="43.90" fill="url(#phbg)" />
<path d="M114.5,493.1 L115.9,493.4 L117.4,493.0 L118.8,493.0 L120.2,493.1 L121.6,493.5 L123.1,493.1 L124.5,493.4 L125.9,493.0 L127.4,493.0 L128.8,493.5 L130.2,493.4 L131.6,493.1 L133.1,493.1 L134.5,493.4 L135.9,493.1 L137.4,493.2 L138.8,493.4 L140.2,493.2 L141.6,492.6 L143.1,492.5 L144.5,491.9 L145.9,491.8 L147.4,491.3 L148.8,491.0 L150.2,490.3 L151.6,490.3 L153.1,490.1 L154.5,489.7 L155.9,489.4 L157.3,489.8 L158.8,489.8 L160.2,489.8 L161.6,490.0 L163.1,490.3 L164.5,490.8 L165.9,491.0 L167.3,491.9 L168.8,491.9 L170.2,492.5 L171.6,493.0 L173.1,493.3 L174.5,493.5 L175.9,493.3 L177.3,493.2 L178.8,493.0 L180.2,493.2 L181.6,493.2 L183.1,492.9 L184.5,493.0 L185.9,493.2 L187.3,493.4 L188.8,492.9 L190.2,493.3 L191.6,493.0 L193.1,493.1 L194.5,493.3 L195.9,493.3 L197.3,493.2 L198.8,493.0 L200.2,492.9 L200.2,514.6 L114.5,514.6 Z" fill="#0b0b0b"/>
<path d="M152.2,450.3 L158.0,450.3 L158.0,478.6 A2.9,2.9 0 0 1 152.2,478.6 Z" fill="#0c0c0c"/>
<circle cx="155.1" cy="479.5" r="0.7" fill="#ddd"/>
<text x="166.3" y="461.9" font-size="9" fill="#c4405c" text-anchor="start"  stroke="#c4405c" stroke-width="0.22">50 ms</text>
<rect x="203.70" y="450.30" width="86.00" height="43.90" fill="url(#phbg)" />
<path d="M203.7,493.3 L205.1,493.1 L206.6,493.4 L208.0,493.2 L209.4,493.4 L210.9,493.5 L212.3,492.9 L213.7,493.1 L215.2,492.9 L216.6,493.0 L218.0,493.1 L219.5,492.9 L220.9,493.3 L222.3,493.2 L223.8,493.3 L225.2,493.1 L226.6,493.1 L228.1,492.8 L229.5,493.1 L230.9,492.6 L232.4,492.1 L233.8,492.0 L235.2,492.1 L236.7,491.3 L238.1,491.5 L239.5,490.8 L241.0,491.1 L242.4,490.9 L243.8,490.5 L245.3,490.6 L246.7,490.8 L248.1,490.6 L249.6,491.0 L251.0,491.1 L252.4,490.9 L253.9,491.6 L255.3,491.3 L256.7,491.7 L258.2,492.2 L259.6,492.6 L261.0,492.7 L262.5,493.0 L263.9,493.2 L265.3,493.0 L266.8,493.1 L268.2,493.2 L269.6,493.0 L271.1,493.2 L272.5,493.3 L273.9,493.0 L275.4,493.2 L276.8,493.2 L278.2,493.4 L279.7,493.4 L281.1,493.2 L282.5,493.3 L284.0,493.4 L285.4,493.4 L286.8,492.9 L288.3,493.1 L289.7,493.4 L289.7,514.6 L203.7,514.6 Z" fill="#0b0b0b"/>
<path d="M242.6,450.3 L248.4,450.3 L248.4,477.9 A2.9,2.9 0 0 1 242.6,477.9 Z" fill="#0c0c0c"/>
<circle cx="245.5" cy="478.8" r="0.7" fill="#ddd"/>
<text x="252.7" y="461.9" font-size="9" fill="#c4405c" text-anchor="start"  stroke="#c4405c" stroke-width="0.22">100 ms</text>
<rect x="293.00" y="450.30" width="86.00" height="43.90" fill="url(#phbg)" />
<path d="M293.0,492.9 L294.4,493.1 L295.9,493.5 L297.3,493.0 L298.7,492.9 L300.2,493.3 L301.6,493.2 L303.0,493.0 L304.5,493.0 L305.9,493.4 L307.3,492.9 L308.8,493.4 L310.2,493.0 L311.6,493.0 L313.1,493.2 L314.5,492.9 L315.9,493.2 L317.4,493.2 L318.8,492.6 L320.2,492.7 L321.7,492.4 L323.1,492.2 L324.5,491.8 L326.0,491.8 L327.4,491.5 L328.8,491.6 L330.3,491.6 L331.7,491.2 L333.1,491.2 L334.6,491.4 L336.0,491.5 L337.4,491.3 L338.9,491.6 L340.3,491.5 L341.7,491.4 L343.2,491.8 L344.6,491.9 L346.0,491.9 L347.5,492.0 L348.9,492.5 L350.3,492.4 L351.8,492.6 L353.2,492.9 L354.6,493.1 L356.1,493.1 L357.5,493.4 L358.9,493.3 L360.4,493.1 L361.8,493.0 L363.2,493.1 L364.7,493.4 L366.1,493.3 L367.5,493.4 L369.0,492.9 L370.4,493.0 L371.8,493.4 L373.3,493.3 L374.7,493.0 L376.1,493.3 L377.6,493.0 L379.0,493.1 L379.0,514.6 L293.0,514.6 Z" fill="#0b0b0b"/>
<path d="M331.0,450.3 L336.8,450.3 L336.8,475.9 A2.9,2.9 0 0 1 331.0,475.9 Z" fill="#0c0c0c"/>
<circle cx="333.9" cy="476.8" r="0.7" fill="#ddd"/>
<text x="344.3" y="461.9" font-size="9" fill="#c4405c" text-anchor="start"  stroke="#c4405c" stroke-width="0.22">500 ms</text>
<rect x="382.40" y="450.30" width="85.70" height="43.90" fill="url(#phbg)" />
<path d="M382.4,493.4 L383.8,493.0 L385.3,493.4 L386.7,493.3 L388.1,493.1 L389.5,493.4 L391.0,493.3 L392.4,493.1 L393.8,493.4 L395.3,493.0 L396.7,493.1 L398.1,493.5 L399.5,493.5 L401.0,493.1 L402.4,493.0 L403.8,493.1 L405.3,492.8 L406.7,492.6 L408.1,493.0 L409.5,492.4 L411.0,492.6 L412.4,492.1 L413.8,492.4 L415.3,492.1 L416.7,491.7 L418.1,491.8 L419.5,491.5 L421.0,491.6 L422.4,491.5 L423.8,491.8 L425.2,491.6 L426.7,491.6 L428.1,491.6 L429.5,491.7 L431.0,492.0 L432.4,491.9 L433.8,492.3 L435.2,492.5 L436.7,492.4 L438.1,492.5 L439.5,492.6 L441.0,492.8 L442.4,493.0 L443.8,493.2 L445.2,492.8 L446.7,493.3 L448.1,493.0 L449.5,493.1 L451.0,493.2 L452.4,493.0 L453.8,493.2 L455.2,493.4 L456.7,493.5 L458.1,493.1 L459.5,493.3 L461.0,493.4 L462.4,493.5 L463.8,493.0 L465.2,493.4 L466.7,493.0 L468.1,493.2 L468.1,514.6 L382.4,514.6 Z" fill="#0b0b0b"/>
<path d="M420.6,450.3 L426.4,450.3 L426.4,470.4 A2.9,2.9 0 0 1 420.6,470.4 Z" fill="#0c0c0c"/>
<circle cx="423.5" cy="471.3" r="0.7" fill="#ddd"/>
<text x="432.0" y="461.9" font-size="9" fill="#c4405c" text-anchor="start"  stroke="#c4405c" stroke-width="0.22">2000 ms</text>
<rect x="12.40" y="378.80" width="10.50" height="37.20" fill="#1f4da0" />
<text transform="translate(21.2,397.4) rotate(-90)" fill="#fff" font-size="9" text-anchor="middle" stroke="#fff" stroke-width="0.22"><tspan font-size="4.8" dy="-3.2">Bi</tspan><tspan dy="3.2">Gel-CB</tspan></text>
<rect x="12.40" y="463.80" width="10.50" height="38.70" fill="#c8405e" />
<text transform="translate(21.2,483.2) rotate(-90)" fill="#fff" font-size="9" text-anchor="middle" stroke="#fff" stroke-width="0.22"><tspan font-size="4.8" dy="-3.2">Iso</tspan><tspan dy="3.2">Gel-CB</tspan></text>
<rect x="532.90" y="372.20" width="47.40" height="122.60" fill="#e0eaf6" />
<rect x="580.30" y="372.20" width="46.20" height="122.60" fill="#fdf1e2" />
<rect x="535.30" y="478.00" width="6.00" height="16.80" fill="#1c3f96" />
<line x1="538.30" y1="476.60" x2="538.30" y2="479.00" stroke="#2a4f9a" stroke-width="0.7" />
<line x1="536.80" y1="476.60" x2="539.80" y2="476.60" stroke="#2a4f9a" stroke-width="0.7" />
<rect x="547.15" y="474.20" width="6.00" height="20.60" fill="#c4405f" />
<line x1="550.15" y1="471.30" x2="550.15" y2="475.20" stroke="#c4405f" stroke-width="0.7" />
<line x1="548.65" y1="471.30" x2="551.65" y2="471.30" stroke="#c4405f" stroke-width="0.7" />
<rect x="582.70" y="435.80" width="6.00" height="59.00" fill="#1c3f96" />
<line x1="585.70" y1="433.00" x2="585.70" y2="436.80" stroke="#2a4f9a" stroke-width="0.7" />
<line x1="584.20" y1="433.00" x2="587.20" y2="433.00" stroke="#2a4f9a" stroke-width="0.7" />
<rect x="594.55" y="429.50" width="6.00" height="65.30" fill="#c4405f" />
<line x1="597.55" y1="427.30" x2="597.55" y2="430.50" stroke="#c4405f" stroke-width="0.7" />
<line x1="596.05" y1="427.30" x2="599.05" y2="427.30" stroke="#c4405f" stroke-width="0.7" />
<rect x="606.40" y="414.20" width="6.00" height="80.60" fill="url(#hbi)" />
<line x1="609.40" y1="413.00" x2="609.40" y2="415.20" stroke="#2a4f9a" stroke-width="0.7" />
<line x1="607.90" y1="413.00" x2="610.90" y2="413.00" stroke="#2a4f9a" stroke-width="0.7" />
<rect x="618.25" y="416.40" width="6.00" height="78.40" fill="url(#hpi)" />
<line x1="621.25" y1="415.30" x2="621.25" y2="417.40" stroke="#c4405f" stroke-width="0.7" />
<line x1="619.75" y1="415.30" x2="622.75" y2="415.30" stroke="#c4405f" stroke-width="0.7" />
<line x1="538.30" y1="494.80" x2="538.30" y2="496.80" stroke="#444" stroke-width="0.7" />
<line x1="550.15" y1="494.80" x2="550.15" y2="496.80" stroke="#444" stroke-width="0.7" />
<line x1="562.00" y1="494.80" x2="562.00" y2="496.80" stroke="#444" stroke-width="0.7" />
<line x1="573.85" y1="494.80" x2="573.85" y2="496.80" stroke="#444" stroke-width="0.7" />
<line x1="585.70" y1="494.80" x2="585.70" y2="496.80" stroke="#444" stroke-width="0.7" />
<line x1="597.55" y1="494.80" x2="597.55" y2="496.80" stroke="#444" stroke-width="0.7" />
<line x1="609.40" y1="494.80" x2="609.40" y2="496.80" stroke="#444" stroke-width="0.7" />
<line x1="621.25" y1="494.80" x2="621.25" y2="496.80" stroke="#444" stroke-width="0.7" />
<rect x="532.90" y="372.20" width="93.60" height="122.60" fill="none" stroke="#444" stroke-width="0.9"/>
<line x1="530.40" y1="494.80" x2="532.90" y2="494.80" stroke="#444" stroke-width="0.8" />
<text x="528.9" y="497.8" font-size="8.6" fill="#222" text-anchor="end"  stroke="#222" stroke-width="0.22">0</text>
<line x1="530.40" y1="464.15" x2="532.90" y2="464.15" stroke="#444" stroke-width="0.8" />
<text x="528.9" y="467.2" font-size="8.6" fill="#222" text-anchor="end"  stroke="#222" stroke-width="0.22">60</text>
<line x1="530.40" y1="433.50" x2="532.90" y2="433.50" stroke="#444" stroke-width="0.8" />
<text x="528.9" y="436.5" font-size="8.6" fill="#222" text-anchor="end"  stroke="#222" stroke-width="0.22">120</text>
<line x1="530.40" y1="402.86" x2="532.90" y2="402.86" stroke="#444" stroke-width="0.8" />
<text x="528.9" y="405.9" font-size="8.6" fill="#222" text-anchor="end"  stroke="#222" stroke-width="0.22">180</text>
<line x1="530.40" y1="372.21" x2="532.90" y2="372.21" stroke="#444" stroke-width="0.8" />
<text x="528.9" y="375.2" font-size="8.6" fill="#222" text-anchor="end"  stroke="#222" stroke-width="0.22">240</text>
<line x1="531.40" y1="479.48" x2="532.90" y2="479.48" stroke="#444" stroke-width="0.7" />
<line x1="531.40" y1="448.83" x2="532.90" y2="448.83" stroke="#444" stroke-width="0.7" />
<line x1="531.40" y1="418.18" x2="532.90" y2="418.18" stroke="#444" stroke-width="0.7" />
<line x1="531.40" y1="387.53" x2="532.90" y2="387.53" stroke="#444" stroke-width="0.7" />
<text x="0.0" y="0.0" font-size="10.5" fill="#222" text-anchor="middle" transform="translate(510,433.7) rotate(-90)" stroke="#222" stroke-width="0.22">Contact angle (°)</text>
<rect x="543.90" y="362.90" width="25.50" height="12.00" fill="#fff" stroke="#444" stroke-width="0.8"/>
<text x="556.6" y="372.4" font-size="9.6" fill="#283a92" text-anchor="middle"  stroke="#283a92" stroke-width="0.22">WCA</text>
<rect x="592.30" y="362.90" width="23.40" height="12.00" fill="#fff" stroke="#444" stroke-width="0.8"/>
<text x="604.0" y="372.4" font-size="9.6" fill="#c8284c" text-anchor="middle"  stroke="#c8284c" stroke-width="0.22">OCA</text>
<path d="M534.3,471.9 A4.6,2.4 0 0 1 543.5,471.9 Z" fill="#111"/>
<rect x="533.10" y="471.90" width="11.60" height="1.00" fill="#bbb" />
<path d="M544.4,463.0 A5.4,3.6 0 0 1 555.2,463.0 Z" fill="#111"/>
<rect x="543.20" y="463.00" width="13.20" height="1.00" fill="#bbb" />
<text x="567.9" y="477.3" font-size="7.7" fill="#222" text-anchor="middle"  stroke="#222" stroke-width="0.22">Spread</text>
<rect x="556.70" y="479.50" width="10.60" height="2.40" fill="#cfcfcf" />
<rect x="556.70" y="481.80" width="10.60" height="1.20" fill="#111" />
<line x1="558.40" y1="486.60" x2="565.60" y2="493.60" stroke="#111" stroke-width="1.3" />
<line x1="565.60" y1="486.60" x2="558.40" y2="493.60" stroke="#111" stroke-width="1.3" />
<rect x="568.55" y="479.50" width="10.60" height="2.40" fill="#cfcfcf" />
<rect x="568.55" y="481.80" width="10.60" height="1.20" fill="#111" />
<line x1="570.25" y1="486.60" x2="577.45" y2="493.60" stroke="#111" stroke-width="1.3" />
<line x1="577.45" y1="486.60" x2="570.25" y2="493.60" stroke="#111" stroke-width="1.3" />
<rect x="580.10" y="415.30" width="10.90" height="9.10" fill="url(#icbg)" />
<circle cx="585.5" cy="418.9" r="4.4" fill="#0a0a0a"/>
<ellipse cx="585.5" cy="419.3" rx="2.1" ry="1.1" fill="#e8e8e8"/>
<rect x="580.10" y="422.40" width="10.90" height="2.00" fill="#0a0a0a" />
<rect x="592.10" y="402.20" width="10.50" height="9.10" fill="url(#icbg)" />
<circle cx="597.4" cy="405.9" r="4.2" fill="#0a0a0a"/>
<ellipse cx="597.4" cy="406.3" rx="2.0" ry="1.1" fill="#e8e8e8"/>
<rect x="592.10" y="409.30" width="10.50" height="2.00" fill="#0a0a0a" />
<rect x="604.00" y="385.70" width="10.90" height="11.20" fill="url(#icbg)" />
<circle cx="609.5" cy="391.4" r="4.4" fill="#0a0a0a"/>
<ellipse cx="609.5" cy="391.8" rx="2.1" ry="1.1" fill="#e8e8e8"/>
<rect x="604.00" y="394.90" width="10.90" height="2.00" fill="#0a0a0a" />
<rect x="614.90" y="398.80" width="11.10" height="9.90" fill="url(#icbg)" />
<circle cx="620.5" cy="403.1" r="4.4" fill="#0a0a0a"/>
<ellipse cx="620.5" cy="403.5" rx="2.1" ry="1.2" fill="#e8e8e8"/>
<rect x="614.90" y="406.70" width="11.10" height="2.00" fill="#0a0a0a" />
<text transform="translate(540.0,503.8) rotate(-45)" fill="#283a92" font-size="9.1" text-anchor="end" stroke="#283a92" stroke-width="0.22"><tspan font-size="4.6" dy="-3">Bi</tspan><tspan dy="3">Gel</tspan></text>
<text transform="translate(551.9,503.8) rotate(-45)" fill="#c23a5c" font-size="9.1" text-anchor="end" stroke="#c23a5c" stroke-width="0.22"><tspan font-size="4.6" dy="-3">Iso</tspan><tspan dy="3">Gel</tspan></text>
<text transform="translate(563.7,503.8) rotate(-45)" fill="#283a92" font-size="9.1" text-anchor="end" stroke="#283a92" stroke-width="0.22"><tspan font-size="4.6" dy="-3">Bi</tspan><tspan dy="3">Gel-CB</tspan></text>
<text transform="translate(575.5,503.8) rotate(-45)" fill="#c23a5c" font-size="9.1" text-anchor="end" stroke="#c23a5c" stroke-width="0.22"><tspan font-size="4.6" dy="-3">Iso</tspan><tspan dy="3">Gel-CB</tspan></text>
<text transform="translate(587.4,503.8) rotate(-45)" fill="#283a92" font-size="9.1" text-anchor="end" stroke="#283a92" stroke-width="0.22"><tspan font-size="4.6" dy="-3">Bi</tspan><tspan dy="3">Gel</tspan></text>
<text transform="translate(599.2,503.8) rotate(-45)" fill="#c23a5c" font-size="9.1" text-anchor="end" stroke="#c23a5c" stroke-width="0.22"><tspan font-size="4.6" dy="-3">Iso</tspan><tspan dy="3">Gel</tspan></text>
<text transform="translate(611.1,503.8) rotate(-45)" fill="#283a92" font-size="9.1" text-anchor="end" stroke="#283a92" stroke-width="0.22"><tspan font-size="4.6" dy="-3">Bi</tspan><tspan dy="3">Gel-CB</tspan></text>
<text transform="translate(623.0,503.8) rotate(-45)" fill="#c23a5c" font-size="9.1" text-anchor="end" stroke="#c23a5c" stroke-width="0.22"><tspan font-size="4.6" dy="-3">Iso</tspan><tspan dy="3">Gel-CB</tspan></text>
</svg></body></html>
